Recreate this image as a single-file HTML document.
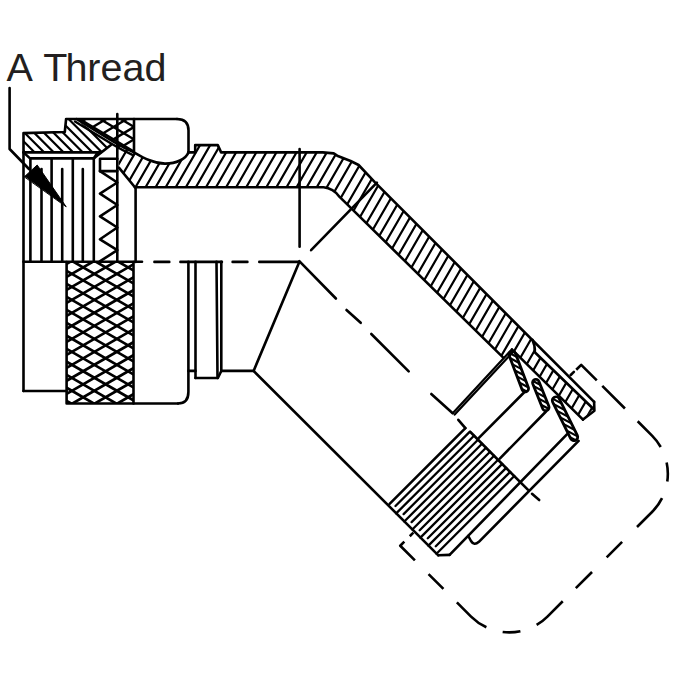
<!DOCTYPE html>
<html><head><meta charset="utf-8"><style>
html,body{margin:0;padding:0;background:#fff;}
body{width:675px;height:675px;overflow:hidden;position:relative;}
.t{position:absolute;left:6.6px;top:47.7px;font-family:"Liberation Sans",sans-serif;font-size:39.5px;line-height:1;color:#231f20;white-space:nowrap;}
svg{position:absolute;left:0;top:0;}
</style></head><body>
<div class="t">A <span style="margin-left:1.5px">T</span><span style="margin-left:-2px">hread</span></div>
<svg width="675" height="675" viewBox="0 0 675 675">
<defs><clipPath id="nuthatch"><path d="M23.5 133.1 L64.8 132 L66.1 119 L75.5 119 L111 143.5 L110.9 145 L100.6 152.8 L23.5 152.4 Z"/></clipPath><clipPath id="knurlup"><path d="M76.5 119 L134 119 L134 152.5 Q124 148 113 141.4 Z"/></clipPath><clipPath id="knurllo"><path d="M66.2 262.0 L133.5 262.0 L133.5 403.5 L66.2 403.5 Z"/></clipPath><clipPath id="body"><path d="M117.3 144 L134 152.3 C143 157.5 153 163.5 165 163.6 C176 163.7 186 159 188.5 152.2 L195.2 152.4 L195.2 145.1 L217.8 145.1 L221.1 152.4 L322.7 152.4 L333.7 153.4 L337.2 155.7 L350.6 161 L358.6 165 L375 182.3 L532.5 339.9 C534.5 344 535 348 534.8 352.2 L593.5 409 L583 419.6 L511.9 349.4 L503 357.4 L339.6 196.9 C336 192 331 188 323.6 187 L134.9 186.5 L118.9 167.6 Z"/></clipPath><clipPath id="f1"><path d="M509.21 355.67 L522.11 389.67 A3.3 3.3 0 0 0 528.29 387.33 L515.39 353.33 A3.3 3.3 0 0 0 509.21 355.67 Z"/></clipPath><clipPath id="f2"><path d="M532.74 383.73 L542.74 408.73 A3.3 3.3 0 0 0 548.86 406.27 L538.86 381.27 A3.3 3.3 0 0 0 532.74 383.73 Z"/></clipPath><clipPath id="f3"><path d="M552.68 402.14 L570.68 438.64 A3.7 3.7 0 0 0 577.32 435.36 L559.32 398.86 A3.7 3.7 0 0 0 552.68 402.14 Z"/></clipPath></defs>
<g stroke="#000" stroke-linecap="round" stroke-linejoin="round" fill="none">
<polyline points="9.6,88.0 9.6,149.0 29.0,169.0" fill="none" stroke-width="2.6"/>
<polygon points="24.6,176.6 37.2,165.0 66.0,206.5" fill="#000" stroke-width="1"/>
<polyline points="23.5,391.0 23.5,133.1 64.8,132.0 66.1,119.0 177.0,119.0" fill="none" stroke-width="2.6"/>
<path d="M177 119 Q188.5 119 188.5 130.5 L188.5 152.2" fill="none" stroke-width="2.6" />
<path d="M134 152.3 C143 157.5 153 163.5 165 163.6 C176 163.7 186 159 188.5 152.2" fill="none" stroke-width="2.6" />
<line x1="23.5" y1="152.4" x2="100.6" y2="152.4" stroke-width="2.6"/>
<polyline points="23.5,152.4 30.0,158.4 94.0,158.4 97.5,152.4" fill="none" stroke-width="2.6"/>
<path clip-path="url(#nuthatch)" d="M344.1 -1019.1L1694.1 330.9M339.3 -1014.3L1689.3 335.7M334.5 -1009.5L1684.5 340.5M329.7 -1004.7L1679.7 345.3M324.9 -999.9L1674.9 350.1M320.1 -995.1L1670.1 354.9M315.3 -990.3L1665.3 359.7M310.5 -985.5L1660.5 364.5M305.6 -980.6L1655.6 369.4M300.8 -975.8L1650.8 374.2M296.0 -971.0L1646.0 379.0M291.2 -966.2L1641.2 383.8M286.4 -961.4L1636.4 388.6M281.6 -956.6L1631.6 393.4M276.8 -951.8L1626.8 398.2M272.0 -947.0L1622.0 403.0M267.2 -942.2L1617.2 407.8M262.4 -937.4L1612.4 412.6M257.6 -932.6L1607.6 417.4M252.8 -927.8L1602.8 422.2M247.9 -922.9L1597.9 427.1M243.1 -918.1L1593.1 431.9M238.3 -913.3L1588.3 436.7M233.5 -908.5L1583.5 441.5M228.7 -903.7L1578.7 446.3M223.9 -898.9L1573.9 451.1M219.1 -894.1L1569.1 455.9M214.3 -889.3L1564.3 460.7M209.5 -884.5L1559.5 465.5M204.7 -879.7L1554.7 470.3M199.9 -874.9L1549.9 475.1M195.1 -870.1L1545.1 479.9M190.2 -865.2L1540.2 484.8M185.4 -860.4L1535.4 489.6M180.6 -855.6L1530.6 494.4M175.8 -850.8L1525.8 499.2M171.0 -846.0L1521.0 504.0M166.2 -841.2L1516.2 508.8M161.4 -836.4L1511.4 513.6M156.6 -831.6L1506.6 518.4M151.8 -826.8L1501.8 523.2M147.0 -822.0L1497.0 528.0M142.2 -817.2L1492.2 532.8M137.4 -812.4L1487.4 537.6M132.5 -807.5L1482.5 542.5M127.7 -802.7L1477.7 547.3M122.9 -797.9L1472.9 552.1M118.1 -793.1L1468.1 556.9M113.3 -788.3L1463.3 561.7M108.5 -783.5L1458.5 566.5M103.7 -778.7L1453.7 571.3M98.9 -773.9L1448.9 576.1M94.1 -769.1L1444.1 580.9M89.3 -764.3L1439.3 585.7M84.5 -759.5L1434.5 590.5M79.7 -754.7L1429.7 595.3M74.8 -749.8L1424.8 600.2M70.0 -745.0L1420.0 605.0M65.2 -740.2L1415.2 609.8M60.4 -735.4L1410.4 614.6M55.6 -730.6L1405.6 619.4M50.8 -725.8L1400.8 624.2M46.0 -721.0L1396.0 629.0M41.2 -716.2L1391.2 633.8M36.4 -711.4L1386.4 638.6M31.6 -706.6L1381.6 643.4M26.8 -701.8L1376.8 648.2M22.0 -697.0L1372.0 653.0M17.1 -692.1L1367.1 657.9M12.3 -687.3L1362.3 662.7M7.5 -682.5L1357.5 667.5M2.7 -677.7L1352.7 672.3M-2.1 -672.9L1347.9 677.1M-6.9 -668.1L1343.1 681.9M-11.7 -663.3L1338.3 686.7M-16.5 -658.5L1333.5 691.5M-21.3 -653.7L1328.7 696.3M-26.1 -648.9L1323.9 701.1M-30.9 -644.1L1319.1 705.9M-35.7 -639.3L1314.3 710.7M-40.6 -634.4L1309.4 715.6M-45.4 -629.6L1304.6 720.4M-50.2 -624.8L1299.8 725.2M-55.0 -620.0L1295.0 730.0M-59.8 -615.2L1290.2 734.8M-64.6 -610.4L1285.4 739.6M-69.4 -605.6L1280.6 744.4M-74.2 -600.8L1275.8 749.2M-79.0 -596.0L1271.0 754.0M-83.8 -591.2L1266.2 758.8M-88.6 -586.4L1261.4 763.6M-93.4 -581.6L1256.6 768.4M-98.3 -576.7L1251.7 773.3M-103.1 -571.9L1246.9 778.1M-107.9 -567.1L1242.1 782.9M-112.7 -562.3L1237.3 787.7M-117.5 -557.5L1232.5 792.5M-122.3 -552.7L1227.7 797.3M-127.1 -547.9L1222.9 802.1M-131.9 -543.1L1218.1 806.9M-136.7 -538.3L1213.3 811.7M-141.5 -533.5L1208.5 816.5M-146.3 -528.7L1203.7 821.3M-151.1 -523.9L1198.9 826.1M-156.0 -519.0L1194.0 831.0M-160.8 -514.2L1189.2 835.8M-165.6 -509.4L1184.4 840.6M-170.4 -504.6L1179.6 845.4M-175.2 -499.8L1174.8 850.2M-180.0 -495.0L1170.0 855.0M-184.8 -490.2L1165.2 859.8M-189.6 -485.4L1160.4 864.6M-194.4 -480.6L1155.6 869.4M-199.2 -475.8L1150.8 874.2M-204.0 -471.0L1146.0 879.0M-208.8 -466.2L1141.2 883.8M-213.7 -461.3L1136.3 888.7M-218.5 -456.5L1131.5 893.5M-223.3 -451.7L1126.7 898.3M-228.1 -446.9L1121.9 903.1M-232.9 -442.1L1117.1 907.9M-237.7 -437.3L1112.3 912.7M-242.5 -432.5L1107.5 917.5M-247.3 -427.7L1102.7 922.3M-252.1 -422.9L1097.9 927.1M-256.9 -418.1L1093.1 931.9M-261.7 -413.3L1088.3 936.7M-266.5 -408.5L1083.5 941.5M-271.4 -403.6L1078.6 946.4M-276.2 -398.8L1073.8 951.2M-281.0 -394.0L1069.0 956.0M-285.8 -389.2L1064.2 960.8M-290.6 -384.4L1059.4 965.6M-295.4 -379.6L1054.6 970.4M-300.2 -374.8L1049.8 975.2M-305.0 -370.0L1045.0 980.0M-309.8 -365.2L1040.2 984.8M-314.6 -360.4L1035.4 989.6M-319.4 -355.6L1030.6 994.4M-324.2 -350.8L1025.8 999.2M-329.1 -345.9L1020.9 1004.1M-333.9 -341.1L1016.1 1008.9M-338.7 -336.3L1011.3 1013.7M-343.5 -331.5L1006.5 1018.5M-348.3 -326.7L1001.7 1023.3M-353.1 -321.9L996.9 1028.1M-357.9 -317.1L992.1 1032.9M-362.7 -312.3L987.3 1037.7M-367.5 -307.5L982.5 1042.5M-372.3 -302.7L977.7 1047.3M-377.1 -297.9L972.9 1052.1M-381.9 -293.1L968.1 1056.9M-386.8 -288.2L963.2 1061.8M-391.6 -283.4L958.4 1066.6M-396.4 -278.6L953.6 1071.4M-401.2 -273.8L948.8 1076.2M-406.0 -269.0L944.0 1081.0M-410.8 -264.2L939.2 1085.8M-415.6 -259.4L934.4 1090.6M-420.4 -254.6L929.6 1095.4M-425.2 -249.8L924.8 1100.2M-430.0 -245.0L920.0 1105.0M-434.8 -240.2L915.2 1109.8M-439.6 -235.4L910.4 1114.6M-444.4 -230.6L905.6 1119.4M-449.3 -225.7L900.7 1124.3M-454.1 -220.9L895.9 1129.1M-458.9 -216.1L891.1 1133.9M-463.7 -211.3L886.3 1138.7M-468.5 -206.5L881.5 1143.5M-473.3 -201.7L876.7 1148.3M-478.1 -196.9L871.9 1153.1M-482.9 -192.1L867.1 1157.9M-487.7 -187.3L862.3 1162.7M-492.5 -182.5L857.5 1167.5M-497.3 -177.7L852.7 1172.3M-502.1 -172.9L847.9 1177.1M-507.0 -168.0L843.0 1182.0M-511.8 -163.2L838.2 1186.8M-516.6 -158.4L833.4 1191.6M-521.4 -153.6L828.6 1196.4M-526.2 -148.8L823.8 1201.2M-531.0 -144.0L819.0 1206.0M-535.8 -139.2L814.2 1210.8M-540.6 -134.4L809.4 1215.6M-545.4 -129.6L804.6 1220.4M-550.2 -124.8L799.8 1225.2M-555.0 -120.0L795.0 1230.0M-559.8 -115.2L790.2 1234.8M-564.7 -110.3L785.3 1239.7M-569.5 -105.5L780.5 1244.5M-574.3 -100.7L775.7 1249.3M-579.1 -95.9L770.9 1254.1M-583.9 -91.1L766.1 1258.9M-588.7 -86.3L761.3 1263.7M-593.5 -81.5L756.5 1268.5M-598.3 -76.7L751.7 1273.3M-603.1 -71.9L746.9 1278.1M-607.9 -67.1L742.1 1282.9M-612.7 -62.3L737.3 1287.7M-617.5 -57.5L732.5 1292.5M-622.4 -52.6L727.6 1297.4M-627.2 -47.8L722.8 1302.2M-632.0 -43.0L718.0 1307.0M-636.8 -38.2L713.2 1311.8M-641.6 -33.4L708.4 1316.6M-646.4 -28.6L703.6 1321.4M-651.2 -23.8L698.8 1326.2M-656.0 -19.0L694.0 1331.0M-660.8 -14.2L689.2 1335.8M-665.6 -9.4L684.4 1340.6M-670.4 -4.6L679.6 1345.4M-675.2 0.2L674.8 1350.2M-680.1 5.1L669.9 1355.1M-684.9 9.9L665.1 1359.9M-689.7 14.7L660.3 1364.7M-694.5 19.5L655.5 1369.5M-699.3 24.3L650.7 1374.3M-704.1 29.1L645.9 1379.1M-708.9 33.9L641.1 1383.9M-713.7 38.7L636.3 1388.7M-718.5 43.5L631.5 1393.5M-723.3 48.3L626.7 1398.3M-728.1 53.1L621.9 1403.1M-732.9 57.9L617.1 1407.9M-737.8 62.8L612.2 1412.8M-742.6 67.6L607.4 1417.6M-747.4 72.4L602.6 1422.4M-752.2 77.2L597.8 1427.2M-757.0 82.0L593.0 1432.0M-761.8 86.8L588.2 1436.8M-766.6 91.6L583.4 1441.6M-771.4 96.4L578.6 1446.4M-776.2 101.2L573.8 1451.2M-781.0 106.0L569.0 1456.0M-785.8 110.8L564.2 1460.8M-790.6 115.6L559.4 1465.6M-795.5 120.5L554.5 1470.5M-800.3 125.3L549.7 1475.3M-805.1 130.1L544.9 1480.1M-809.9 134.9L540.1 1484.9M-814.7 139.7L535.3 1489.7M-819.5 144.5L530.5 1494.5M-824.3 149.3L525.7 1499.3M-829.1 154.1L520.9 1504.1M-833.9 158.9L516.1 1508.9M-838.7 163.7L511.3 1513.7M-843.5 168.5L506.5 1518.5M-848.3 173.3L501.7 1523.3M-853.2 178.2L496.8 1528.2M-858.0 183.0L492.0 1533.0M-862.8 187.8L487.2 1537.8M-867.6 192.6L482.4 1542.6M-872.4 197.4L477.6 1547.4M-877.2 202.2L472.8 1552.2M-882.0 207.0L468.0 1557.0M-886.8 211.8L463.2 1561.8M-891.6 216.6L458.4 1566.6M-896.4 221.4L453.6 1571.4M-901.2 226.2L448.8 1576.2M-906.0 231.0L444.0 1581.0M-910.9 235.9L439.1 1585.9M-915.7 240.7L434.3 1590.7M-920.5 245.5L429.5 1595.5M-925.3 250.3L424.7 1600.3M-930.1 255.1L419.9 1605.1M-934.9 259.9L415.1 1609.9M-939.7 264.7L410.3 1614.7M-944.5 269.5L405.5 1619.5M-949.3 274.3L400.7 1624.3M-954.1 279.1L395.9 1629.1M-958.9 283.9L391.1 1633.9M-963.7 288.7L386.3 1638.7M-968.6 293.6L381.4 1643.6M-973.4 298.4L376.6 1648.4M-978.2 303.2L371.8 1653.2M-983.0 308.0L367.0 1658.0M-987.8 312.8L362.2 1662.8M-992.6 317.6L357.4 1667.6M-997.4 322.4L352.6 1672.4M-1002.2 327.2L347.8 1677.2M-1007.0 332.0L343.0 1682.0M-1011.8 336.8L338.2 1686.8M-1016.6 341.6L333.4 1691.6M-1021.4 346.4L328.6 1696.4" stroke-width="2.2" fill="none"/>
<path d="M76.5 119 L113 141.4 Q124 148 134 152.5" fill="none" stroke-width="2.4" />
<path d="M75 121.4 L111.5 143.8 Q122.5 150.4 132.5 154.9" fill="none" stroke-width="2.4" />
<line x1="30.4" y1="158.4" x2="30.4" y2="261.8" stroke-width="2.6"/>
<line x1="51.6" y1="158.4" x2="51.6" y2="261.8" stroke-width="2.6"/>
<line x1="72.8" y1="158.4" x2="72.8" y2="261.8" stroke-width="2.6"/>
<line x1="93.8" y1="158.4" x2="93.8" y2="261.8" stroke-width="2.6"/>
<line x1="41.5" y1="169.0" x2="41.5" y2="261.8" stroke-width="2.6"/>
<line x1="62.2" y1="169.0" x2="62.2" y2="261.8" stroke-width="2.6"/>
<line x1="82.8" y1="169.0" x2="82.8" y2="261.8" stroke-width="2.6"/>
<line x1="23.5" y1="261.8" x2="142.0" y2="261.8" stroke-width="2.6"/>
<line x1="93.6" y1="158.4" x2="110.9" y2="145.0" stroke-width="2.6"/>
<polyline points="117.3,158.7 100.0,158.7 100.0,171.1" fill="none" stroke-width="2.6"/>
<polyline points="100.0,171.1 117.3,182.5 100.0,193.6 117.3,205.0 100.0,216.3 117.3,227.5 100.0,239.3 117.3,250.2 99.8,261.4" fill="none" stroke-width="2.6"/>
<line x1="100.0" y1="171.1" x2="117.3" y2="171.1" stroke-width="2.6"/>
<line x1="117.3" y1="114.0" x2="117.3" y2="261.8" stroke-width="2.6"/>
<line x1="134.0" y1="119.0" x2="134.0" y2="152.3" stroke-width="2.6"/>
<path clip-path="url(#knurlup)" d="M16.8 -982.2L1653.3 1.1M11.3 -973.1L1647.8 10.2M5.9 -964.0L1642.4 19.3M0.4 -954.9L1636.9 28.4M-5.0 -945.9L1631.4 37.5M-10.5 -936.8L1626.0 46.5M-16.0 -927.7L1620.5 55.6M-21.4 -918.6L1615.1 64.7M-26.9 -909.5L1609.6 73.8M-32.3 -900.4L1604.2 82.9M-37.8 -891.3L1598.7 92.0M-43.3 -882.3L1593.2 101.1M-48.7 -873.2L1587.8 110.1M-54.2 -864.1L1582.3 119.2M-59.6 -855.0L1576.9 128.3M-65.1 -845.9L1571.4 137.4M-70.6 -836.8L1565.9 146.5M-76.0 -827.7L1560.5 155.6M-81.5 -818.6L1555.0 164.7M-86.9 -809.6L1549.6 173.7M-92.4 -800.5L1544.1 182.8M-97.9 -791.4L1538.6 191.9M-103.3 -782.3L1533.2 201.0M-108.8 -773.2L1527.7 210.1M-114.2 -764.1L1522.3 219.2M-119.7 -755.0L1516.8 228.3M-125.2 -746.0L1511.3 237.3M-130.6 -736.9L1505.9 246.4M-136.1 -727.8L1500.4 255.5M-141.5 -718.7L1495.0 264.6M-147.0 -709.6L1489.5 273.7M-152.4 -700.5L1484.0 282.8M-157.9 -691.4L1478.6 291.9M-163.4 -682.4L1473.1 300.9M-168.8 -673.3L1467.7 310.0M-174.3 -664.2L1462.2 319.1M-179.7 -655.1L1456.7 328.2M-185.2 -646.0L1451.3 337.3M-190.7 -636.9L1445.8 346.4M-196.1 -627.8L1440.4 355.5M-201.6 -618.8L1434.9 364.5M-207.0 -609.7L1429.5 373.6M-212.5 -600.6L1424.0 382.7M-218.0 -591.5L1418.5 391.8M-223.4 -582.4L1413.1 400.9M-228.9 -573.3L1407.6 410.0M-234.3 -564.2L1402.2 419.1M-239.8 -555.2L1396.7 428.1M-245.3 -546.1L1391.2 437.2M-250.7 -537.0L1385.8 446.3M-256.2 -527.9L1380.3 455.4M-261.6 -518.8L1374.9 464.5M-267.1 -509.7L1369.4 473.6M-272.6 -500.6L1363.9 482.7M-278.0 -491.6L1358.5 491.8M-283.5 -482.5L1353.0 500.8M-288.9 -473.4L1347.6 509.9M-294.4 -464.3L1342.1 519.0M-299.9 -455.2L1336.6 528.1M-305.3 -446.1L1331.2 537.2M-310.8 -437.0L1325.7 546.3M-316.2 -428.0L1320.3 555.4M-321.7 -418.9L1314.8 564.4M-327.2 -409.8L1309.3 573.5M-332.6 -400.7L1303.9 582.6M-338.1 -391.6L1298.4 591.7M-343.5 -382.5L1293.0 600.8M-349.0 -373.4L1287.5 609.9M-354.4 -364.3L1282.0 619.0M-359.9 -355.3L1276.6 628.0M-365.4 -346.2L1271.1 637.1M-370.8 -337.1L1265.7 646.2M-376.3 -328.0L1260.2 655.3M-381.7 -318.9L1254.7 664.4M-387.2 -309.8L1249.3 673.5M-392.7 -300.7L1243.8 682.6M-398.1 -291.7L1238.4 691.6M-403.6 -282.6L1232.9 700.7M-409.0 -273.5L1227.5 709.8M-414.5 -264.4L1222.0 718.9M-420.0 -255.3L1216.5 728.0M-425.4 -246.2L1211.1 737.1M-430.9 -237.1L1205.6 746.2M-436.3 -228.1L1200.2 755.2M-441.8 -219.0L1194.7 764.3M-447.3 -209.9L1189.2 773.4M-452.7 -200.8L1183.8 782.5M-458.2 -191.7L1178.3 791.6M-463.6 -182.6L1172.9 800.7M-469.1 -173.5L1167.4 809.8M-474.6 -164.5L1161.9 818.8M-480.0 -155.4L1156.5 827.9M-485.5 -146.3L1151.0 837.0M-490.9 -137.2L1145.6 846.1M-496.4 -128.1L1140.1 855.2M-501.9 -119.0L1134.6 864.3M-507.3 -109.9L1129.2 873.4M-512.8 -100.9L1123.7 882.4M-518.2 -91.8L1118.3 891.5M-523.7 -82.7L1112.8 900.6M-529.1 -73.6L1107.3 909.7M-534.6 -64.5L1101.9 918.8M-540.1 -55.4L1096.4 927.9M-545.5 -46.3L1091.0 937.0M-551.0 -37.3L1085.5 946.0M-556.4 -28.2L1080.0 955.1M-561.9 -19.1L1074.6 964.2M-567.4 -10.0L1069.1 973.3M-572.8 -0.9L1063.7 982.4M-578.3 8.2L1058.2 991.5M-583.7 17.3L1052.8 1000.6M-589.2 26.3L1047.3 1009.7M-594.7 35.4L1041.8 1018.7M-600.1 44.5L1036.4 1027.8M-605.6 53.6L1030.9 1036.9M-611.0 62.7L1025.5 1046.0M-616.5 71.8L1020.0 1055.1M-622.0 80.9L1014.5 1064.2M-627.4 89.9L1009.1 1073.3M-632.9 99.0L1003.6 1082.3M-638.3 108.1L998.2 1091.4M-643.8 117.2L992.7 1100.5M-649.3 126.3L987.2 1109.6M-654.7 135.4L981.8 1118.7M-660.2 144.5L976.3 1127.8M-665.6 153.6L970.9 1136.9M-671.1 162.6L965.4 1145.9M-676.6 171.7L959.9 1155.0M-682.0 180.8L954.5 1164.1M-687.5 189.9L949.0 1173.2M-692.9 199.0L943.6 1182.3M-698.4 208.1L938.1 1191.4M-703.8 217.2L932.6 1200.5M-709.3 226.2L927.2 1209.5M-714.8 235.3L921.7 1218.6M-720.2 244.4L916.3 1227.7M-725.7 253.5L910.8 1236.8M-731.1 262.6L905.3 1245.9M-736.6 271.7L899.9 1255.0M-742.1 280.8L894.4 1264.1M-747.5 289.8L889.0 1273.1M-753.0 298.9L883.5 1282.2M-758.4 308.0L878.1 1291.3M-763.9 317.1L872.6 1300.4M-769.4 326.2L867.1 1309.5M-774.8 335.3L861.7 1318.6M-780.3 344.4L856.2 1327.7M-785.7 353.4L850.8 1336.7M-791.2 362.5L845.3 1345.8M-796.7 371.6L839.8 1354.9M-802.1 380.7L834.4 1364.0M-807.6 389.8L828.9 1373.1M-813.0 398.9L823.5 1382.2M-818.5 408.0L818.0 1391.3M-824.0 417.0L812.5 1400.3M-829.4 426.1L807.1 1409.4M-834.9 435.2L801.6 1418.5M-840.3 444.3L796.2 1427.6M-845.8 453.4L790.7 1436.7M-851.3 462.5L785.2 1445.8M-856.7 471.6L779.8 1454.9M-862.2 480.6L774.3 1464.0M-867.6 489.7L768.9 1473.0M-873.1 498.8L763.4 1482.1M-878.6 507.9L757.9 1491.2M-884.0 517.0L752.5 1500.3M-889.5 526.1L747.0 1509.4M-894.9 535.2L741.6 1518.5M-900.4 544.2L736.1 1527.6M-905.8 553.3L730.6 1536.6M-911.3 562.4L725.2 1545.7M-916.8 571.5L719.7 1554.8M-922.2 580.6L714.3 1563.9M-927.7 589.7L708.8 1573.0M-933.1 598.8L703.3 1582.1M-938.6 607.8L697.9 1591.2M-944.1 616.9L692.4 1600.2M-949.5 626.0L687.0 1609.3M-955.0 635.1L681.5 1618.4M-960.4 644.2L676.1 1627.5M-965.9 653.3L670.6 1636.6M-971.4 662.4L665.1 1645.7M-976.8 671.5L659.7 1654.8M-982.3 680.5L654.2 1663.8" stroke-width="2.4" fill="none"/>
<path clip-path="url(#knurlup)" d="M-982.5 -5.9L654.0 -989.2M-977.1 3.1L659.4 -980.2M-971.6 12.2L664.9 -971.1M-966.1 21.3L670.4 -962.0M-960.7 30.4L675.8 -952.9M-955.2 39.5L681.3 -943.8M-949.8 48.6L686.7 -934.7M-944.3 57.7L692.2 -925.6M-938.8 66.8L697.6 -916.6M-933.4 75.8L703.1 -907.5M-927.9 84.9L708.6 -898.4M-922.5 94.0L714.0 -889.3M-917.0 103.1L719.5 -880.2M-911.5 112.2L724.9 -871.1M-906.1 121.3L730.4 -862.0M-900.6 130.4L735.9 -853.0M-895.2 139.4L741.3 -843.9M-889.7 148.5L746.8 -834.8M-884.3 157.6L752.2 -825.7M-878.8 166.7L757.7 -816.6M-873.3 175.8L763.2 -807.5M-867.9 184.9L768.6 -798.4M-862.4 194.0L774.1 -789.4M-857.0 203.0L779.5 -780.3M-851.5 212.1L785.0 -771.2M-846.0 221.2L790.5 -762.1M-840.6 230.3L795.9 -753.0M-835.1 239.4L801.4 -743.9M-829.7 248.5L806.8 -734.8M-824.2 257.6L812.3 -725.7M-818.7 266.6L817.8 -716.7M-813.3 275.7L823.2 -707.6M-807.8 284.8L828.7 -698.5M-802.4 293.9L834.1 -689.4M-796.9 303.0L839.6 -680.3M-791.4 312.1L845.1 -671.2M-786.0 321.2L850.5 -662.1M-780.5 330.2L856.0 -653.1M-775.1 339.3L861.4 -644.0M-769.6 348.4L866.9 -634.9M-764.1 357.5L872.4 -625.8M-758.7 366.6L877.8 -616.7M-753.2 375.7L883.3 -607.6M-747.8 384.8L888.7 -598.5M-742.3 393.8L894.2 -589.5M-736.8 402.9L899.6 -580.4M-731.4 412.0L905.1 -571.3M-725.9 421.1L910.6 -562.2M-720.5 430.2L916.0 -553.1M-715.0 439.3L921.5 -544.0M-709.5 448.4L926.9 -534.9M-704.1 457.4L932.4 -525.9M-698.6 466.5L937.9 -516.8M-693.2 475.6L943.3 -507.7M-687.7 484.7L948.8 -498.6M-682.3 493.8L954.2 -489.5M-676.8 502.9L959.7 -480.4M-671.3 512.0L965.2 -471.3M-665.9 521.0L970.6 -462.3M-660.4 530.1L976.1 -453.2M-655.0 539.2L981.5 -444.1M-649.5 548.3L987.0 -435.0M-644.0 557.4L992.5 -425.9M-638.6 566.5L997.9 -416.8M-633.1 575.6L1003.4 -407.7M-627.7 584.7L1008.8 -398.7M-622.2 593.7L1014.3 -389.6M-616.7 602.8L1019.8 -380.5M-611.3 611.9L1025.2 -371.4M-605.8 621.0L1030.7 -362.3M-600.4 630.1L1036.1 -353.2M-594.9 639.2L1041.6 -344.1M-589.4 648.3L1047.1 -335.1M-584.0 657.3L1052.5 -326.0M-578.5 666.4L1058.0 -316.9M-573.1 675.5L1063.4 -307.8M-567.6 684.6L1068.9 -298.7M-562.1 693.7L1074.3 -289.6M-556.7 702.8L1079.8 -280.5M-551.2 711.9L1085.3 -271.5M-545.8 720.9L1090.7 -262.4M-540.3 730.0L1096.2 -253.3M-534.8 739.1L1101.6 -244.2M-529.4 748.2L1107.1 -235.1M-523.9 757.3L1112.6 -226.0M-518.5 766.4L1118.0 -216.9M-513.0 775.5L1123.5 -207.8M-507.6 784.5L1128.9 -198.8M-502.1 793.6L1134.4 -189.7M-496.6 802.7L1139.9 -180.6M-491.2 811.8L1145.3 -171.5M-485.7 820.9L1150.8 -162.4M-480.3 830.0L1156.2 -153.3M-474.8 839.1L1161.7 -144.2M-469.3 848.1L1167.2 -135.2M-463.9 857.2L1172.6 -126.1M-458.4 866.3L1178.1 -117.0M-453.0 875.4L1183.5 -107.9M-447.5 884.5L1189.0 -98.8M-442.0 893.6L1194.5 -89.7M-436.6 902.7L1199.9 -80.6M-431.1 911.7L1205.4 -71.6M-425.7 920.8L1210.8 -62.5M-420.2 929.9L1216.3 -53.4M-414.7 939.0L1221.8 -44.3M-409.3 948.1L1227.2 -35.2M-403.8 957.2L1232.7 -26.1M-398.4 966.3L1238.1 -17.0M-392.9 975.3L1243.6 -8.0M-387.4 984.4L1249.0 1.1M-382.0 993.5L1254.5 10.2M-376.5 1002.6L1260.0 19.3M-371.1 1011.7L1265.4 28.4M-365.6 1020.8L1270.9 37.5M-360.1 1029.9L1276.3 46.6M-354.7 1038.9L1281.8 55.6M-349.2 1048.0L1287.3 64.7M-343.8 1057.1L1292.7 73.8M-338.3 1066.2L1298.2 82.9M-332.9 1075.3L1303.6 92.0M-327.4 1084.4L1309.1 101.1M-321.9 1093.5L1314.6 110.2M-316.5 1102.6L1320.0 119.2M-311.0 1111.6L1325.5 128.3M-305.6 1120.7L1330.9 137.4M-300.1 1129.8L1336.4 146.5M-294.6 1138.9L1341.9 155.6M-289.2 1148.0L1347.3 164.7M-283.7 1157.1L1352.8 173.8M-278.3 1166.2L1358.2 182.8M-272.8 1175.2L1363.7 191.9M-267.3 1184.3L1369.2 201.0M-261.9 1193.4L1374.6 210.1M-256.4 1202.5L1380.1 219.2M-251.0 1211.6L1385.5 228.3M-245.5 1220.7L1391.0 237.4M-240.0 1229.8L1396.5 246.4M-234.6 1238.8L1401.9 255.5M-229.1 1247.9L1407.4 264.6M-223.7 1257.0L1412.8 273.7M-218.2 1266.1L1418.3 282.8M-212.7 1275.2L1423.8 291.9M-207.3 1284.3L1429.2 301.0M-201.8 1293.4L1434.7 310.1M-196.4 1302.4L1440.1 319.1M-190.9 1311.5L1445.6 328.2M-185.4 1320.6L1451.0 337.3M-180.0 1329.7L1456.5 346.4M-174.5 1338.8L1462.0 355.5M-169.1 1347.9L1467.4 364.6M-163.6 1357.0L1472.9 373.7M-158.1 1366.0L1478.3 382.7M-152.7 1375.1L1483.8 391.8M-147.2 1384.2L1489.3 400.9M-141.8 1393.3L1494.7 410.0M-136.3 1402.4L1500.2 419.1M-130.9 1411.5L1505.6 428.2M-125.4 1420.6L1511.1 437.3M-119.9 1429.6L1516.6 446.3M-114.5 1438.7L1522.0 455.4M-109.0 1447.8L1527.5 464.5M-103.6 1456.9L1532.9 473.6M-98.1 1466.0L1538.4 482.7M-92.6 1475.1L1543.9 491.8M-87.2 1484.2L1549.3 500.9M-81.7 1493.2L1554.8 509.9M-76.3 1502.3L1560.2 519.0M-70.8 1511.4L1565.7 528.1M-65.3 1520.5L1571.2 537.2M-59.9 1529.6L1576.6 546.3M-54.4 1538.7L1582.1 555.4M-49.0 1547.8L1587.5 564.5M-43.5 1556.8L1593.0 573.5M-38.0 1565.9L1598.5 582.6M-32.6 1575.0L1603.9 591.7M-27.1 1584.1L1609.4 600.8M-21.7 1593.2L1614.8 609.9M-16.2 1602.3L1620.3 619.0M-10.7 1611.4L1625.7 628.1M-5.3 1620.5L1631.2 637.1M0.2 1629.5L1636.7 646.2M5.6 1638.6L1642.1 655.3M11.1 1647.7L1647.6 664.4M16.6 1656.8L1653.0 673.5" stroke-width="2.4" fill="none"/>
<polyline points="66.6,262.0 66.6,403.5 178.0,403.5" fill="none" stroke-width="2.6"/>
<path d="M178 403.5 Q188.4 403.5 188.4 392 L188.4 261.8" fill="none" stroke-width="2.6" />
<line x1="23.5" y1="391.0" x2="66.6" y2="391.0" stroke-width="2.6"/>
<line x1="133.5" y1="262.0" x2="133.5" y2="403.5" stroke-width="2.6"/>
<path clip-path="url(#knurllo)" d="M-4.9 -978.5L1648.5 -24.0M-10.6 -968.8L1642.8 -14.2M-16.2 -959.1L1637.2 -4.5M-21.8 -949.3L1631.6 5.3M-27.4 -939.6L1626.0 15.0M-33.1 -929.8L1620.3 24.8M-38.7 -920.1L1614.7 34.5M-44.3 -910.4L1609.1 44.2M-49.9 -900.6L1603.5 54.0M-55.6 -890.9L1597.8 63.7M-61.2 -881.1L1592.2 73.5M-66.8 -871.4L1586.6 83.2M-72.4 -861.6L1581.0 93.0M-78.1 -851.9L1575.3 102.7M-83.7 -842.2L1569.7 112.4M-89.3 -832.4L1564.1 122.2M-94.9 -822.7L1558.5 131.9M-100.6 -812.9L1552.8 141.7M-106.2 -803.2L1547.2 151.4M-111.8 -793.4L1541.6 161.2M-117.4 -783.7L1536.0 170.9M-123.1 -774.0L1530.3 180.6M-128.7 -764.2L1524.7 190.4M-134.3 -754.5L1519.1 200.1M-139.9 -744.7L1513.5 209.9M-145.6 -735.0L1507.8 219.6M-151.2 -725.2L1502.2 229.4M-156.8 -715.5L1496.6 239.1M-162.4 -705.8L1491.0 248.8M-168.1 -696.0L1485.3 258.6M-173.7 -686.3L1479.7 268.3M-179.3 -676.5L1474.1 278.1M-184.9 -666.8L1468.5 287.8M-190.6 -657.0L1462.8 297.6M-196.2 -647.3L1457.2 307.3M-201.8 -637.6L1451.6 317.0M-207.4 -627.8L1446.0 326.8M-213.1 -618.1L1440.3 336.5M-218.7 -608.3L1434.7 346.3M-224.3 -598.6L1429.1 356.0M-229.9 -588.8L1423.5 365.8M-235.6 -579.1L1417.8 375.5M-241.2 -569.4L1412.2 385.2M-246.8 -559.6L1406.6 395.0M-252.4 -549.9L1401.0 404.7M-258.1 -540.1L1395.3 414.5M-263.7 -530.4L1389.7 424.2M-269.3 -520.6L1384.1 434.0M-274.9 -510.9L1378.5 443.7M-280.6 -501.2L1372.8 453.4M-286.2 -491.4L1367.2 463.2M-291.8 -481.7L1361.6 472.9M-297.4 -471.9L1356.0 482.7M-303.1 -462.2L1350.3 492.4M-308.7 -452.4L1344.7 502.2M-314.3 -442.7L1339.1 511.9M-319.9 -433.0L1333.5 521.6M-325.6 -423.2L1327.8 531.4M-331.2 -413.5L1322.2 541.1M-336.8 -403.7L1316.6 550.9M-342.4 -394.0L1311.0 560.6M-348.1 -384.2L1305.3 570.4M-353.7 -374.5L1299.7 580.1M-359.3 -364.8L1294.1 589.8M-364.9 -355.0L1288.5 599.6M-370.6 -345.3L1282.8 609.3M-376.2 -335.5L1277.2 619.1M-381.8 -325.8L1271.6 628.8M-387.4 -316.0L1266.0 638.6M-393.1 -306.3L1260.3 648.3M-398.7 -296.6L1254.7 658.0M-404.3 -286.8L1249.1 667.8M-409.9 -277.1L1243.5 677.5M-415.6 -267.3L1237.8 687.3M-421.2 -257.6L1232.2 697.0M-426.8 -247.8L1226.6 706.8M-432.4 -238.1L1221.0 716.5M-438.1 -228.4L1215.3 726.2M-443.7 -218.6L1209.7 736.0M-449.3 -208.9L1204.1 745.7M-454.9 -199.1L1198.5 755.5M-460.6 -189.4L1192.8 765.2M-466.2 -179.6L1187.2 775.0M-471.8 -169.9L1181.6 784.7M-477.4 -160.2L1176.0 794.4M-483.1 -150.4L1170.3 804.2M-488.7 -140.7L1164.7 813.9M-494.3 -130.9L1159.1 823.7M-499.9 -121.2L1153.5 833.4M-505.6 -111.4L1147.8 843.2M-511.2 -101.7L1142.2 852.9M-516.8 -92.0L1136.6 862.6M-522.4 -82.2L1131.0 872.4M-528.1 -72.5L1125.3 882.1M-533.7 -62.7L1119.7 891.9M-539.3 -53.0L1114.1 901.6M-544.9 -43.2L1108.5 911.4M-550.6 -33.5L1102.8 921.1M-556.2 -23.8L1097.2 930.8M-561.8 -14.0L1091.6 940.6M-567.4 -4.3L1086.0 950.3M-573.1 5.5L1080.3 960.1M-578.7 15.2L1074.7 969.8M-584.3 25.0L1069.1 979.6M-589.9 34.7L1063.5 989.3M-595.6 44.4L1057.8 999.0M-601.2 54.2L1052.2 1008.8M-606.8 63.9L1046.6 1018.5M-612.4 73.7L1041.0 1028.3M-618.1 83.4L1035.3 1038.0M-623.7 93.2L1029.7 1047.8M-629.3 102.9L1024.1 1057.5M-634.9 112.6L1018.5 1067.2M-640.6 122.4L1012.8 1077.0M-646.2 132.1L1007.2 1086.7M-651.8 141.9L1001.6 1096.5M-657.4 151.6L996.0 1106.2M-663.1 161.4L990.3 1116.0M-668.7 171.1L984.7 1125.7M-674.3 180.8L979.1 1135.4M-679.9 190.6L973.5 1145.2M-685.6 200.3L967.8 1154.9M-691.2 210.1L962.2 1164.7M-696.8 219.8L956.6 1174.4M-702.4 229.6L951.0 1184.1M-708.1 239.3L945.3 1193.9M-713.7 249.0L939.7 1203.6M-719.3 258.8L934.1 1213.4M-724.9 268.5L928.5 1223.1M-730.6 278.3L922.8 1232.9M-736.2 288.0L917.2 1242.6M-741.8 297.8L911.6 1252.3M-747.4 307.5L906.0 1262.1M-753.1 317.2L900.3 1271.8M-758.7 327.0L894.7 1281.6M-764.3 336.7L889.1 1291.3M-769.9 346.5L883.5 1301.1M-775.6 356.2L877.8 1310.8M-781.2 366.0L872.2 1320.5M-786.8 375.7L866.6 1330.3M-792.4 385.4L861.0 1340.0M-798.1 395.2L855.3 1349.8M-803.7 404.9L849.7 1359.5M-809.3 414.7L844.1 1369.3M-814.9 424.4L838.5 1379.0M-820.6 434.2L832.8 1388.7M-826.2 443.9L827.2 1398.5M-831.8 453.6L821.6 1408.2M-837.4 463.4L816.0 1418.0M-843.1 473.1L810.3 1427.7M-848.7 482.9L804.7 1437.5M-854.3 492.6L799.1 1447.2M-859.9 502.4L793.5 1456.9M-865.6 512.1L787.8 1466.7M-871.2 521.8L782.2 1476.4M-876.8 531.6L776.6 1486.2M-882.4 541.3L771.0 1495.9M-888.1 551.1L765.3 1505.7M-893.7 560.8L759.7 1515.4M-899.3 570.6L754.1 1525.1M-904.9 580.3L748.5 1534.9M-910.6 590.0L742.8 1544.6M-916.2 599.8L737.2 1554.4M-921.8 609.5L731.6 1564.1M-927.4 619.3L726.0 1573.9M-933.1 629.0L720.3 1583.6M-938.7 638.8L714.7 1593.3M-944.3 648.5L709.1 1603.1M-949.9 658.2L703.5 1612.8M-955.6 668.0L697.8 1622.6M-961.2 677.7L692.2 1632.3M-966.8 687.5L686.6 1642.1M-972.4 697.2L681.0 1651.8" stroke-width="2.7" fill="none"/>
<path clip-path="url(#knurllo)" d="M-976.9 -29.9L676.5 -984.5M-971.3 -20.2L682.1 -974.8M-965.7 -10.4L687.7 -965.0M-960.0 -0.7L693.4 -955.3M-954.4 9.0L699.0 -945.6M-948.8 18.8L704.6 -935.8M-943.2 28.5L710.2 -926.1M-937.5 38.3L715.9 -916.3M-931.9 48.0L721.5 -906.6M-926.3 57.8L727.1 -896.8M-920.7 67.5L732.7 -887.1M-915.0 77.2L738.4 -877.4M-909.4 87.0L744.0 -867.6M-903.8 96.7L749.6 -857.9M-898.2 106.5L755.2 -848.1M-892.5 116.2L760.9 -838.4M-886.9 126.0L766.5 -828.6M-881.3 135.7L772.1 -818.9M-875.7 145.4L777.7 -809.2M-870.0 155.2L783.4 -799.4M-864.4 164.9L789.0 -789.7M-858.8 174.7L794.6 -779.9M-853.2 184.4L800.2 -770.2M-847.5 194.2L805.9 -760.4M-841.9 203.9L811.5 -750.7M-836.3 213.6L817.1 -741.0M-830.7 223.4L822.7 -731.2M-825.0 233.1L828.4 -721.5M-819.4 242.9L834.0 -711.7M-813.8 252.6L839.6 -702.0M-808.2 262.4L845.2 -692.2M-802.5 272.1L850.9 -682.5M-796.9 281.8L856.5 -672.8M-791.3 291.6L862.1 -663.0M-785.7 301.3L867.7 -653.3M-780.0 311.1L873.4 -643.5M-774.4 320.8L879.0 -633.8M-768.8 330.6L884.6 -624.0M-763.2 340.3L890.2 -614.3M-757.5 350.0L895.9 -604.6M-751.9 359.8L901.5 -594.8M-746.3 369.5L907.1 -585.1M-740.7 379.3L912.7 -575.3M-735.0 389.0L918.4 -565.6M-729.4 398.8L924.0 -555.8M-723.8 408.5L929.6 -546.1M-718.2 418.2L935.2 -536.4M-712.5 428.0L940.9 -526.6M-706.9 437.7L946.5 -516.9M-701.3 447.5L952.1 -507.1M-695.7 457.2L957.7 -497.4M-690.0 467.0L963.4 -487.6M-684.4 476.7L969.0 -477.9M-678.8 486.4L974.6 -468.2M-673.2 496.2L980.2 -458.4M-667.5 505.9L985.9 -448.7M-661.9 515.7L991.5 -438.9M-656.3 525.4L997.1 -429.2M-650.7 535.2L1002.7 -419.4M-645.0 544.9L1008.4 -409.7M-639.4 554.6L1014.0 -400.0M-633.8 564.4L1019.6 -390.2M-628.2 574.1L1025.2 -380.5M-622.5 583.9L1030.9 -370.7M-616.9 593.6L1036.5 -361.0M-611.3 603.3L1042.1 -351.2M-605.7 613.1L1047.7 -341.5M-600.0 622.8L1053.4 -331.8M-594.4 632.6L1059.0 -322.0M-588.8 642.3L1064.6 -312.3M-583.2 652.1L1070.2 -302.5M-577.5 661.8L1075.9 -292.8M-571.9 671.5L1081.5 -283.0M-566.3 681.3L1087.1 -273.3M-560.7 691.0L1092.7 -263.6M-555.0 700.8L1098.4 -253.8M-549.4 710.5L1104.0 -244.1M-543.8 720.3L1109.6 -234.3M-538.2 730.0L1115.2 -224.6M-532.5 739.7L1120.9 -214.8M-526.9 749.5L1126.5 -205.1M-521.3 759.2L1132.1 -195.4M-515.7 769.0L1137.7 -185.6M-510.0 778.7L1143.4 -175.9M-504.4 788.5L1149.0 -166.1M-498.8 798.2L1154.6 -156.4M-493.2 807.9L1160.2 -146.6M-487.5 817.7L1165.9 -136.9M-481.9 827.4L1171.5 -127.2M-476.3 837.2L1177.1 -117.4M-470.7 846.9L1182.7 -107.7M-465.0 856.7L1188.4 -97.9M-459.4 866.4L1194.0 -88.2M-453.8 876.1L1199.6 -78.4M-448.2 885.9L1205.2 -68.7M-442.5 895.6L1210.9 -59.0M-436.9 905.4L1216.5 -49.2M-431.3 915.1L1222.1 -39.5M-425.7 924.9L1227.7 -29.7M-420.0 934.6L1233.4 -20.0M-414.4 944.3L1239.0 -10.2M-408.8 954.1L1244.6 -0.5M-403.2 963.8L1250.2 9.2M-397.5 973.6L1255.9 19.0M-391.9 983.3L1261.5 28.7M-386.3 993.1L1267.1 38.5M-380.7 1002.8L1272.7 48.2M-375.0 1012.5L1278.4 58.0M-369.4 1022.3L1284.0 67.7M-363.8 1032.0L1289.6 77.4M-358.2 1041.8L1295.2 87.2M-352.5 1051.5L1300.9 96.9M-346.9 1061.3L1306.5 106.7M-341.3 1071.0L1312.1 116.4M-335.7 1080.7L1317.7 126.2M-330.0 1090.5L1323.4 135.9M-324.4 1100.2L1329.0 145.6M-318.8 1110.0L1334.6 155.4M-313.2 1119.7L1340.2 165.1M-307.5 1129.5L1345.9 174.9M-301.9 1139.2L1351.5 184.6M-296.3 1148.9L1357.1 194.4M-290.7 1158.7L1362.7 204.1M-285.0 1168.4L1368.4 213.8M-279.4 1178.2L1374.0 223.6M-273.8 1187.9L1379.6 233.3M-268.2 1197.7L1385.2 243.1M-262.5 1207.4L1390.9 252.8M-256.9 1217.1L1396.5 262.6M-251.3 1226.9L1402.1 272.3M-245.7 1236.6L1407.7 282.0M-240.0 1246.4L1413.4 291.8M-234.4 1256.1L1419.0 301.5M-228.8 1265.9L1424.6 311.3M-223.2 1275.6L1430.2 321.0M-217.5 1285.3L1435.9 330.8M-211.9 1295.1L1441.5 340.5M-206.3 1304.8L1447.1 350.2M-200.7 1314.6L1452.7 360.0M-195.0 1324.3L1458.4 369.7M-189.4 1334.1L1464.0 379.5M-183.8 1343.8L1469.6 389.2M-178.2 1353.5L1475.2 399.0M-172.5 1363.3L1480.9 408.7M-166.9 1373.0L1486.5 418.4M-161.3 1382.8L1492.1 428.2M-155.7 1392.5L1497.7 437.9M-150.0 1402.3L1503.4 447.7M-144.4 1412.0L1509.0 457.4M-138.8 1421.7L1514.6 467.1M-133.2 1431.5L1520.2 476.9M-127.5 1441.2L1525.9 486.6M-121.9 1451.0L1531.5 496.4M-116.3 1460.7L1537.1 506.1M-110.7 1470.5L1542.7 515.9M-105.0 1480.2L1548.4 525.6M-99.4 1489.9L1554.0 535.3M-93.8 1499.7L1559.6 545.1M-88.2 1509.4L1565.2 554.8M-82.5 1519.2L1570.9 564.6M-76.9 1528.9L1576.5 574.3M-71.3 1538.7L1582.1 584.1M-65.7 1548.4L1587.7 593.8M-60.0 1558.1L1593.4 603.5M-54.4 1567.9L1599.0 613.3M-48.8 1577.6L1604.6 623.0M-43.2 1587.4L1610.2 632.8M-37.5 1597.1L1615.9 642.5M-31.9 1606.9L1621.5 652.3M-26.3 1616.6L1627.1 662.0M-20.7 1626.3L1632.7 671.7M-15.0 1636.1L1638.4 681.5M-9.4 1645.8L1644.0 691.2M-3.8 1655.6L1649.6 701.0" stroke-width="2.7" fill="none"/>
<path d="M188.5 152.4 L195.2 152.4 L195.2 145.1 L217.8 145.1 L221.1 152.4 L322.7 152.4 L333.7 153.4 L337.2 155.7 L350.6 161 L358.6 165 L375 182.3 L594.1 401.9" fill="none" stroke-width="2.6" />
<path d="M134.9 187.3 L323.6 187.3 C331 188 336 192 339.6 196.9 L503 357.4" fill="none" stroke-width="2.6" />
<line x1="118.9" y1="167.6" x2="134.9" y2="187.3" stroke-width="2.6"/>
<path clip-path="url(#body)" d="M-975.6 681.6L-21.0 -971.8M-968.1 686.0L-13.5 -967.4M-960.5 690.4L-5.9 -963.0M-953.0 694.7L1.6 -958.7M-945.4 699.1L9.2 -954.3M-937.9 703.4L16.7 -950.0M-930.3 707.8L24.3 -945.6M-922.8 712.2L31.8 -941.2M-915.2 716.5L39.4 -936.9M-907.7 720.9L46.9 -932.5M-900.1 725.2L54.5 -928.2M-892.5 729.6L62.0 -923.8M-885.0 734.0L69.6 -919.4M-877.4 738.3L77.1 -915.1M-869.9 742.7L84.7 -910.7M-862.3 747.0L92.3 -906.4M-854.8 751.4L99.8 -902.0M-847.2 755.8L107.4 -897.6M-839.7 760.1L114.9 -893.3M-832.1 764.5L122.5 -888.9M-824.6 768.8L130.0 -884.6M-817.0 773.2L137.6 -880.2M-809.5 777.6L145.1 -875.8M-801.9 781.9L152.7 -871.5M-794.4 786.3L160.2 -867.1M-786.8 790.6L167.8 -862.8M-779.3 795.0L175.3 -858.4M-771.7 799.4L182.9 -854.0M-764.2 803.7L190.4 -849.7M-756.6 808.1L198.0 -845.3M-749.1 812.4L205.5 -841.0M-741.5 816.8L213.1 -836.6M-734.0 821.2L220.6 -832.2M-726.4 825.5L228.2 -827.9M-718.9 829.9L235.7 -823.5M-711.3 834.2L243.3 -819.2M-703.8 838.6L250.8 -814.8M-696.2 843.0L258.4 -810.4M-688.7 847.3L265.9 -806.1M-681.1 851.7L273.5 -801.7M-673.5 856.0L281.0 -797.4M-666.0 860.4L288.6 -793.0M-658.4 864.8L296.1 -788.6M-650.9 869.1L303.7 -784.3M-643.3 873.5L311.3 -779.9M-635.8 877.8L318.8 -775.6M-628.2 882.2L326.4 -771.2M-620.7 886.6L333.9 -766.8M-613.1 890.9L341.5 -762.5M-605.6 895.3L349.0 -758.1M-598.0 899.6L356.6 -753.8M-590.5 904.0L364.1 -749.4M-582.9 908.4L371.7 -745.0M-575.4 912.7L379.2 -740.7M-567.8 917.1L386.8 -736.3M-560.3 921.4L394.3 -732.0M-552.7 925.8L401.9 -727.6M-545.2 930.2L409.4 -723.2M-537.6 934.5L417.0 -718.9M-530.1 938.9L424.5 -714.5M-522.5 943.2L432.1 -710.2M-515.0 947.6L439.6 -705.8M-507.4 952.0L447.2 -701.4M-499.9 956.3L454.7 -697.1M-492.3 960.7L462.3 -692.7M-484.8 965.0L469.8 -688.4M-477.2 969.4L477.4 -684.0M-469.7 973.8L484.9 -679.6M-462.1 978.1L492.5 -675.3M-454.5 982.5L500.0 -670.9M-447.0 986.8L507.6 -666.6M-439.4 991.2L515.2 -662.2M-431.9 995.6L522.7 -657.8M-424.3 999.9L530.3 -653.5M-416.8 1004.3L537.8 -649.1M-409.2 1008.6L545.4 -644.8M-401.7 1013.0L552.9 -640.4M-394.1 1017.4L560.5 -636.0M-386.6 1021.7L568.0 -631.7M-379.0 1026.1L575.6 -627.3M-371.5 1030.4L583.1 -623.0M-363.9 1034.8L590.7 -618.6M-356.4 1039.2L598.2 -614.2M-348.8 1043.5L605.8 -609.9M-341.3 1047.9L613.3 -605.5M-333.7 1052.2L620.9 -601.2M-326.2 1056.6L628.4 -596.8M-318.6 1061.0L636.0 -592.4M-311.1 1065.3L643.5 -588.1M-303.5 1069.7L651.1 -583.7M-296.0 1074.0L658.6 -579.4M-288.4 1078.4L666.2 -575.0M-280.9 1082.8L673.7 -570.6M-273.3 1087.1L681.3 -566.3M-265.8 1091.5L688.8 -561.9M-258.2 1095.8L696.4 -557.6M-250.7 1100.2L703.9 -553.2M-243.1 1104.6L711.5 -548.8M-235.5 1108.9L719.0 -544.5M-228.0 1113.3L726.6 -540.1M-220.4 1117.6L734.2 -535.8M-212.9 1122.0L741.7 -531.4M-205.3 1126.4L749.3 -527.0M-197.8 1130.7L756.8 -522.7M-190.2 1135.1L764.4 -518.3M-182.7 1139.4L771.9 -514.0M-175.1 1143.8L779.5 -509.6M-167.6 1148.2L787.0 -505.2M-160.0 1152.5L794.6 -500.9M-152.5 1156.9L802.1 -496.5M-144.9 1161.2L809.7 -492.2M-137.4 1165.6L817.2 -487.8M-129.8 1170.0L824.8 -483.4M-122.3 1174.3L832.3 -479.1M-114.7 1178.7L839.9 -474.7M-107.2 1183.0L847.4 -470.4M-99.6 1187.4L855.0 -466.0M-92.1 1191.8L862.5 -461.6M-84.5 1196.1L870.1 -457.3M-77.0 1200.5L877.6 -452.9M-69.4 1204.8L885.2 -448.6M-61.9 1209.2L892.7 -444.2M-54.3 1213.6L900.3 -439.8M-46.8 1217.9L907.8 -435.5M-39.2 1222.3L915.4 -431.1M-31.6 1226.6L922.9 -426.8M-24.1 1231.0L930.5 -422.4M-16.5 1235.4L938.0 -418.0M-9.0 1239.7L945.6 -413.7M-1.4 1244.1L953.2 -409.3M6.1 1248.4L960.7 -405.0M13.7 1252.8L968.3 -400.6M21.2 1257.2L975.8 -396.2M28.8 1261.5L983.4 -391.9M36.3 1265.9L990.9 -387.5M43.9 1270.2L998.5 -383.2M51.4 1274.6L1006.0 -378.8M59.0 1279.0L1013.6 -374.4M66.5 1283.3L1021.1 -370.1M74.1 1287.7L1028.7 -365.7M81.6 1292.0L1036.2 -361.4M89.2 1296.4L1043.8 -357.0M96.7 1300.8L1051.3 -352.6M104.3 1305.1L1058.9 -348.3M111.8 1309.5L1066.4 -343.9M119.4 1313.8L1074.0 -339.6M126.9 1318.2L1081.5 -335.2M134.5 1322.6L1089.1 -330.8M142.0 1326.9L1096.6 -326.5M149.6 1331.3L1104.2 -322.1M157.1 1335.6L1111.7 -317.8M164.7 1340.0L1119.3 -313.4M172.2 1344.4L1126.8 -309.0M179.8 1348.7L1134.4 -304.7M187.4 1353.1L1141.9 -300.3M194.9 1357.4L1149.5 -296.0M202.5 1361.8L1157.0 -291.6M210.0 1366.2L1164.6 -287.2M217.6 1370.5L1172.2 -282.9M225.1 1374.9L1179.7 -278.5M232.7 1379.2L1187.3 -274.2M240.2 1383.6L1194.8 -269.8M247.8 1388.0L1202.4 -265.4M255.3 1392.3L1209.9 -261.1M262.9 1396.7L1217.5 -256.7M270.4 1401.0L1225.0 -252.4M278.0 1405.4L1232.6 -248.0M285.5 1409.8L1240.1 -243.6M293.1 1414.1L1247.7 -239.3M300.6 1418.5L1255.2 -234.9M308.2 1422.8L1262.8 -230.6M315.7 1427.2L1270.3 -226.2M323.3 1431.6L1277.9 -221.8M330.8 1435.9L1285.4 -217.5M338.4 1440.3L1293.0 -213.1M345.9 1444.6L1300.5 -208.8M353.5 1449.0L1308.1 -204.4M361.0 1453.4L1315.6 -200.0M368.6 1457.7L1323.2 -195.7M376.1 1462.1L1330.7 -191.3M383.7 1466.4L1338.3 -187.0M391.2 1470.8L1345.8 -182.6M398.8 1475.2L1353.4 -178.2M406.4 1479.5L1360.9 -173.9M413.9 1483.9L1368.5 -169.5M421.5 1488.2L1376.0 -165.2M429.0 1492.6L1383.6 -160.8M436.6 1497.0L1391.2 -156.4M444.1 1501.3L1398.7 -152.1M451.7 1505.7L1406.3 -147.7M459.2 1510.0L1413.8 -143.4M466.8 1514.4L1421.4 -139.0M474.3 1518.8L1428.9 -134.6M481.9 1523.1L1436.5 -130.3M489.4 1527.5L1444.0 -125.9M497.0 1531.8L1451.6 -121.6M504.5 1536.2L1459.1 -117.2M512.1 1540.6L1466.7 -112.8M519.6 1544.9L1474.2 -108.5M527.2 1549.3L1481.8 -104.1M534.7 1553.6L1489.3 -99.8M542.3 1558.0L1496.9 -95.4M549.8 1562.4L1504.4 -91.0M557.4 1566.7L1512.0 -86.7M564.9 1571.1L1519.5 -82.3M572.5 1575.4L1527.1 -78.0M580.0 1579.8L1534.6 -73.6M587.6 1584.2L1542.2 -69.2M595.1 1588.5L1549.7 -64.9M602.7 1592.9L1557.3 -60.5M610.2 1597.2L1564.8 -56.2M617.8 1601.6L1572.4 -51.8M625.4 1606.0L1579.9 -47.4M632.9 1610.3L1587.5 -43.1M640.5 1614.7L1595.0 -38.7M648.0 1619.0L1602.6 -34.4M655.6 1623.4L1610.2 -30.0M663.1 1627.8L1617.7 -25.6M670.7 1632.1L1625.3 -21.3M678.2 1636.5L1632.8 -16.9M685.8 1640.8L1640.4 -12.6M693.3 1645.2L1647.9 -8.2M700.9 1649.6L1655.5 -3.8" stroke-width="2.2" fill="none"/>
<line x1="299.6" y1="149.0" x2="299.6" y2="246.7" stroke-width="2.6"/>
<line x1="311.1" y1="250.2" x2="376.9" y2="182.7" stroke-width="2.6"/>
<path d="M532.5 339.9 C534.5 344 535 348 534.8 352.2 L593.5 409" fill="none" stroke-width="2.6" />
<polyline points="594.1,401.9 594.4,410.7 583.0,419.6" fill="none" stroke-width="2.6"/>
<line x1="511.9" y1="349.4" x2="583.0" y2="419.6" stroke-width="2.6"/>
<line x1="135.6" y1="187.3" x2="135.6" y2="261.9" stroke-width="2.6"/>
<line x1="154.4" y1="261.9" x2="169.3" y2="261.9" stroke-width="2.6"/>
<line x1="180.4" y1="261.9" x2="221.9" y2="261.9" stroke-width="2.6"/>
<line x1="232.6" y1="261.9" x2="247.4" y2="261.9" stroke-width="2.6"/>
<line x1="259.3" y1="261.9" x2="299.3" y2="261.9" stroke-width="2.6"/>
<line x1="195.5" y1="261.9" x2="195.5" y2="378.0" stroke-width="2.6"/>
<line x1="216.5" y1="261.9" x2="217.5" y2="378.0" stroke-width="2.6"/>
<polyline points="221.3,261.9 221.3,371.0 218.0,377.8" fill="none" stroke-width="2.6"/>
<line x1="188.4" y1="370.9" x2="195.5" y2="370.9" stroke-width="2.6"/>
<line x1="195.5" y1="378.0" x2="217.5" y2="378.0" stroke-width="2.6"/>
<line x1="221.3" y1="370.9" x2="253.6" y2="370.9" stroke-width="2.6"/>
<line x1="299.3" y1="262.0" x2="253.6" y2="370.9" stroke-width="2.6"/>
<line x1="253.6" y1="370.9" x2="438.3" y2="555.3" stroke-width="2.6"/>
<line x1="299.3" y1="261.2" x2="335.9" y2="298.5" stroke-width="2.6"/>
<line x1="346.5" y1="310.0" x2="360.7" y2="322.8" stroke-width="2.6"/>
<line x1="371.3" y1="334.0" x2="408.7" y2="371.3" stroke-width="2.6"/>
<line x1="431.3" y1="394.0" x2="452.7" y2="413.2" stroke-width="2.6"/>
<line x1="532.0" y1="493.8" x2="539.2" y2="500.0" stroke-width="2.6"/>
<line x1="452.7" y1="413.2" x2="511.9" y2="349.4" stroke-width="2.2"/>
<line x1="454.7" y1="414.6" x2="512.5" y2="352.5" stroke-width="2.2"/>
<path clip-path="url(#f1)" d="M-54.0 -959.6L1631.7 -63.3M-56.0 -955.8L1629.7 -59.5M-58.0 -952.0L1627.7 -55.7M-60.0 -948.2L1625.7 -51.9M-62.1 -944.4L1623.7 -48.1M-64.1 -940.6L1621.6 -44.3M-66.1 -936.8L1619.6 -40.5M-68.1 -933.0L1617.6 -36.7M-70.1 -929.2L1615.6 -32.9M-72.2 -925.4L1613.6 -29.1M-74.2 -921.6L1611.5 -25.3M-76.2 -917.8L1609.5 -21.5M-78.2 -914.0L1607.5 -17.7M-80.2 -910.2L1605.5 -13.9M-82.2 -906.4L1603.5 -10.1M-84.3 -902.6L1601.5 -6.3M-86.3 -898.8L1599.4 -2.5M-88.3 -895.0L1597.4 1.3M-90.3 -891.2L1595.4 5.1M-92.3 -887.4L1593.4 8.9M-94.4 -883.6L1591.4 12.7M-96.4 -879.8L1589.3 16.5M-98.4 -876.0L1587.3 20.3M-100.4 -872.2L1585.3 24.1M-102.4 -868.4L1583.3 27.9M-104.4 -864.7L1581.3 31.7M-106.5 -860.9L1579.2 35.5M-108.5 -857.1L1577.2 39.3M-110.5 -853.3L1575.2 43.0M-112.5 -849.5L1573.2 46.8M-114.5 -845.7L1571.2 50.6M-116.6 -841.9L1569.2 54.4M-118.6 -838.1L1567.1 58.2M-120.6 -834.3L1565.1 62.0M-122.6 -830.5L1563.1 65.8M-124.6 -826.7L1561.1 69.6M-126.7 -822.9L1559.1 73.4M-128.7 -819.1L1557.0 77.2M-130.7 -815.3L1555.0 81.0M-132.7 -811.5L1553.0 84.8M-134.7 -807.7L1551.0 88.6M-136.7 -803.9L1549.0 92.4M-138.8 -800.1L1546.9 96.2M-140.8 -796.3L1544.9 100.0M-142.8 -792.5L1542.9 103.8M-144.8 -788.7L1540.9 107.6M-146.8 -784.9L1538.9 111.4M-148.9 -781.1L1536.9 115.2M-150.9 -777.3L1534.8 119.0M-152.9 -773.5L1532.8 122.8M-154.9 -769.7L1530.8 126.6M-156.9 -765.9L1528.8 130.4M-159.0 -762.1L1526.8 134.2M-161.0 -758.3L1524.7 138.0M-163.0 -754.5L1522.7 141.8M-165.0 -750.8L1520.7 145.6M-167.0 -747.0L1518.7 149.4M-169.0 -743.2L1516.7 153.2M-171.1 -739.4L1514.6 156.9M-173.1 -735.6L1512.6 160.7M-175.1 -731.8L1510.6 164.5M-177.1 -728.0L1508.6 168.3M-179.1 -724.2L1506.6 172.1M-181.2 -720.4L1504.6 175.9M-183.2 -716.6L1502.5 179.7M-185.2 -712.8L1500.5 183.5M-187.2 -709.0L1498.5 187.3M-189.2 -705.2L1496.5 191.1M-191.3 -701.4L1494.5 194.9M-193.3 -697.6L1492.4 198.7M-195.3 -693.8L1490.4 202.5M-197.3 -690.0L1488.4 206.3M-199.3 -686.2L1486.4 210.1M-201.3 -682.4L1484.4 213.9M-203.4 -678.6L1482.3 217.7M-205.4 -674.8L1480.3 221.5M-207.4 -671.0L1478.3 225.3M-209.4 -667.2L1476.3 229.1M-211.4 -663.4L1474.3 232.9M-213.5 -659.6L1472.3 236.7M-215.5 -655.8L1470.2 240.5M-217.5 -652.0L1468.2 244.3M-219.5 -648.2L1466.2 248.1M-221.5 -644.4L1464.2 251.9M-223.6 -640.6L1462.2 255.7M-225.6 -636.9L1460.1 259.5M-227.6 -633.1L1458.1 263.3M-229.6 -629.3L1456.1 267.1M-231.6 -625.5L1454.1 270.8M-233.6 -621.7L1452.1 274.6M-235.7 -617.9L1450.0 278.4M-237.7 -614.1L1448.0 282.2M-239.7 -610.3L1446.0 286.0M-241.7 -606.5L1444.0 289.8M-243.7 -602.7L1442.0 293.6M-245.8 -598.9L1440.0 297.4M-247.8 -595.1L1437.9 301.2M-249.8 -591.3L1435.9 305.0M-251.8 -587.5L1433.9 308.8M-253.8 -583.7L1431.9 312.6M-255.9 -579.9L1429.9 316.4M-257.9 -576.1L1427.8 320.2M-259.9 -572.3L1425.8 324.0M-261.9 -568.5L1423.8 327.8M-263.9 -564.7L1421.8 331.6M-265.9 -560.9L1419.8 335.4M-268.0 -557.1L1417.7 339.2M-270.0 -553.3L1415.7 343.0M-272.0 -549.5L1413.7 346.8M-274.0 -545.7L1411.7 350.6M-276.0 -541.9L1409.7 354.4M-278.1 -538.1L1407.7 358.2M-280.1 -534.3L1405.6 362.0M-282.1 -530.5L1403.6 365.8M-284.1 -526.7L1401.6 369.6M-286.1 -523.0L1399.6 373.4M-288.2 -519.2L1397.6 377.2M-290.2 -515.4L1395.5 381.0M-292.2 -511.6L1393.5 384.7M-294.2 -507.8L1391.5 388.5M-296.2 -504.0L1389.5 392.3M-298.2 -500.2L1387.5 396.1M-300.3 -496.4L1385.4 399.9M-302.3 -492.6L1383.4 403.7M-304.3 -488.8L1381.4 407.5M-306.3 -485.0L1379.4 411.3M-308.3 -481.2L1377.4 415.1M-310.4 -477.4L1375.4 418.9M-312.4 -473.6L1373.3 422.7M-314.4 -469.8L1371.3 426.5M-316.4 -466.0L1369.3 430.3M-318.4 -462.2L1367.3 434.1M-320.5 -458.4L1365.3 437.9M-322.5 -454.6L1363.2 441.7M-324.5 -450.8L1361.2 445.5M-326.5 -447.0L1359.2 449.3M-328.5 -443.2L1357.2 453.1M-330.5 -439.4L1355.2 456.9M-332.6 -435.6L1353.1 460.7M-334.6 -431.8L1351.1 464.5M-336.6 -428.0L1349.1 468.3M-338.6 -424.2L1347.1 472.1M-340.6 -420.4L1345.1 475.9M-342.7 -416.6L1343.1 479.7M-344.7 -412.8L1341.0 483.5M-346.7 -409.1L1339.0 487.3M-348.7 -405.3L1337.0 491.1M-350.7 -401.5L1335.0 494.9M-352.8 -397.7L1333.0 498.6M-354.8 -393.9L1330.9 502.4M-356.8 -390.1L1328.9 506.2M-358.8 -386.3L1326.9 510.0M-360.8 -382.5L1324.9 513.8M-362.8 -378.7L1322.9 517.6M-364.9 -374.9L1320.8 521.4M-366.9 -371.1L1318.8 525.2M-368.9 -367.3L1316.8 529.0M-370.9 -363.5L1314.8 532.8M-372.9 -359.7L1312.8 536.6M-375.0 -355.9L1310.8 540.4M-377.0 -352.1L1308.7 544.2M-379.0 -348.3L1306.7 548.0M-381.0 -344.5L1304.7 551.8M-383.0 -340.7L1302.7 555.6M-385.1 -336.9L1300.7 559.4M-387.1 -333.1L1298.6 563.2M-389.1 -329.3L1296.6 567.0M-391.1 -325.5L1294.6 570.8M-393.1 -321.7L1292.6 574.6M-395.1 -317.9L1290.6 578.4M-397.2 -314.1L1288.5 582.2M-399.2 -310.3L1286.5 586.0M-401.2 -306.5L1284.5 589.8M-403.2 -302.7L1282.5 593.6M-405.2 -298.9L1280.5 597.4M-407.3 -295.1L1278.5 601.2M-409.3 -291.4L1276.4 605.0M-411.3 -287.6L1274.4 608.8M-413.3 -283.8L1272.4 612.5M-415.3 -280.0L1270.4 616.3M-417.4 -276.2L1268.4 620.1M-419.4 -272.4L1266.3 623.9M-421.4 -268.6L1264.3 627.7M-423.4 -264.8L1262.3 631.5M-425.4 -261.0L1260.3 635.3M-427.4 -257.2L1258.3 639.1M-429.5 -253.4L1256.2 642.9M-431.5 -249.6L1254.2 646.7M-433.5 -245.8L1252.2 650.5M-435.5 -242.0L1250.2 654.3M-437.5 -238.2L1248.2 658.1M-439.6 -234.4L1246.2 661.9M-441.6 -230.6L1244.1 665.7M-443.6 -226.8L1242.1 669.5M-445.6 -223.0L1240.1 673.3M-447.6 -219.2L1238.1 677.1M-449.7 -215.4L1236.1 680.9M-451.7 -211.6L1234.0 684.7M-453.7 -207.8L1232.0 688.5M-455.7 -204.0L1230.0 692.3M-457.7 -200.2L1228.0 696.1M-459.7 -196.4L1226.0 699.9M-461.8 -192.6L1223.9 703.7M-463.8 -188.8L1221.9 707.5M-465.8 -185.0L1219.9 711.3M-467.8 -181.2L1217.9 715.1M-469.8 -177.5L1215.9 718.9M-471.9 -173.7L1213.9 722.7M-473.9 -169.9L1211.8 726.5M-475.9 -166.1L1209.8 730.2M-477.9 -162.3L1207.8 734.0M-479.9 -158.5L1205.8 737.8M-482.0 -154.7L1203.8 741.6M-484.0 -150.9L1201.7 745.4M-486.0 -147.1L1199.7 749.2M-488.0 -143.3L1197.7 753.0M-490.0 -139.5L1195.7 756.8M-492.0 -135.7L1193.7 760.6M-494.1 -131.9L1191.6 764.4M-496.1 -128.1L1189.6 768.2M-498.1 -124.3L1187.6 772.0M-500.1 -120.5L1185.6 775.8M-502.1 -116.7L1183.6 779.6M-504.2 -112.9L1181.6 783.4M-506.2 -109.1L1179.5 787.2M-508.2 -105.3L1177.5 791.0M-510.2 -101.5L1175.5 794.8M-512.2 -97.7L1173.5 798.6M-514.3 -93.9L1171.5 802.4M-516.3 -90.1L1169.4 806.2M-518.3 -86.3L1167.4 810.0M-520.3 -82.5L1165.4 813.8M-522.3 -78.7L1163.4 817.6M-524.3 -74.9L1161.4 821.4M-526.4 -71.1L1159.3 825.2M-528.4 -67.3L1157.3 829.0M-530.4 -63.6L1155.3 832.8M-532.4 -59.8L1153.3 836.6M-534.4 -56.0L1151.3 840.4M-536.5 -52.2L1149.3 844.1M-538.5 -48.4L1147.2 847.9M-540.5 -44.6L1145.2 851.7M-542.5 -40.8L1143.2 855.5M-544.5 -37.0L1141.2 859.3M-546.6 -33.2L1139.2 863.1M-548.6 -29.4L1137.1 866.9M-550.6 -25.6L1135.1 870.7M-552.6 -21.8L1133.1 874.5M-554.6 -18.0L1131.1 878.3M-556.6 -14.2L1129.1 882.1M-558.7 -10.4L1127.0 885.9M-560.7 -6.6L1125.0 889.7M-562.7 -2.8L1123.0 893.5M-564.7 1.0L1121.0 897.3M-566.7 4.8L1119.0 901.1M-568.8 8.6L1117.0 904.9M-570.8 12.4L1114.9 908.7M-572.8 16.2L1112.9 912.5M-574.8 20.0L1110.9 916.3M-576.8 23.8L1108.9 920.1M-578.9 27.6L1106.9 923.9M-580.9 31.4L1104.8 927.7M-582.9 35.2L1102.8 931.5M-584.9 39.0L1100.8 935.3M-586.9 42.8L1098.8 939.1M-588.9 46.6L1096.8 942.9M-591.0 50.3L1094.8 946.7M-593.0 54.1L1092.7 950.5M-595.0 57.9L1090.7 954.3M-597.0 61.7L1088.7 958.0M-599.0 65.5L1086.7 961.8M-601.1 69.3L1084.7 965.6M-603.1 73.1L1082.6 969.4M-605.1 76.9L1080.6 973.2M-607.1 80.7L1078.6 977.0M-609.1 84.5L1076.6 980.8M-611.2 88.3L1074.6 984.6M-613.2 92.1L1072.5 988.4M-615.2 95.9L1070.5 992.2M-617.2 99.7L1068.5 996.0M-619.2 103.5L1066.5 999.8M-621.2 107.3L1064.5 1003.6M-623.3 111.1L1062.5 1007.4M-625.3 114.9L1060.4 1011.2M-627.3 118.7L1058.4 1015.0M-629.3 122.5L1056.4 1018.8M-631.3 126.3L1054.4 1022.6M-633.4 130.1L1052.4 1026.4M-635.4 133.9L1050.3 1030.2M-637.4 137.7L1048.3 1034.0M-639.4 141.5L1046.3 1037.8M-641.4 145.3L1044.3 1041.6M-643.5 149.1L1042.3 1045.4M-645.5 152.9L1040.2 1049.2M-647.5 156.7L1038.2 1053.0M-649.5 160.5L1036.2 1056.8M-651.5 164.2L1034.2 1060.6M-653.5 168.0L1032.2 1064.4M-655.6 171.8L1030.2 1068.2M-657.6 175.6L1028.1 1071.9M-659.6 179.4L1026.1 1075.7M-661.6 183.2L1024.1 1079.5M-663.6 187.0L1022.1 1083.3M-665.7 190.8L1020.1 1087.1M-667.7 194.6L1018.0 1090.9M-669.7 198.4L1016.0 1094.7M-671.7 202.2L1014.0 1098.5M-673.7 206.0L1012.0 1102.3M-675.7 209.8L1010.0 1106.1M-677.8 213.6L1007.9 1109.9M-679.8 217.4L1005.9 1113.7M-681.8 221.2L1003.9 1117.5M-683.8 225.0L1001.9 1121.3M-685.8 228.8L999.9 1125.1M-687.9 232.6L997.9 1128.9M-689.9 236.4L995.8 1132.7M-691.9 240.2L993.8 1136.5M-693.9 244.0L991.8 1140.3M-695.9 247.8L989.8 1144.1M-698.0 251.6L987.8 1147.9M-700.0 255.4L985.7 1151.7M-702.0 259.2L983.7 1155.5M-704.0 263.0L981.7 1159.3M-706.0 266.8L979.7 1163.1M-708.0 270.6L977.7 1166.9M-710.1 274.4L975.6 1170.7M-712.1 278.1L973.6 1174.5M-714.1 281.9L971.6 1178.3M-716.1 285.7L969.6 1182.1M-718.1 289.5L967.6 1185.8M-720.2 293.3L965.6 1189.6M-722.2 297.1L963.5 1193.4M-724.2 300.9L961.5 1197.2M-726.2 304.7L959.5 1201.0M-728.2 308.5L957.5 1204.8M-730.3 312.3L955.5 1208.6M-732.3 316.1L953.4 1212.4M-734.3 319.9L951.4 1216.2M-736.3 323.7L949.4 1220.0M-738.3 327.5L947.4 1223.8M-740.3 331.3L945.4 1227.6M-742.4 335.1L943.3 1231.4M-744.4 338.9L941.3 1235.2M-746.4 342.7L939.3 1239.0M-748.4 346.5L937.3 1242.8M-750.4 350.3L935.3 1246.6M-752.5 354.1L933.3 1250.4M-754.5 357.9L931.2 1254.2M-756.5 361.7L929.2 1258.0M-758.5 365.5L927.2 1261.8M-760.5 369.3L925.2 1265.6M-762.6 373.1L923.2 1269.4M-764.6 376.9L921.1 1273.2M-766.6 380.7L919.1 1277.0M-768.6 384.5L917.1 1280.8M-770.6 388.3L915.1 1284.6M-772.6 392.0L913.1 1288.4M-774.7 395.8L911.0 1292.2M-776.7 399.6L909.0 1296.0M-778.7 403.4L907.0 1299.7M-780.7 407.2L905.0 1303.5M-782.7 411.0L903.0 1307.3M-784.8 414.8L901.0 1311.1M-786.8 418.6L898.9 1314.9M-788.8 422.4L896.9 1318.7M-790.8 426.2L894.9 1322.5M-792.8 430.0L892.9 1326.3M-794.9 433.8L890.9 1330.1M-796.9 437.6L888.8 1333.9M-798.9 441.4L886.8 1337.7M-800.9 445.2L884.8 1341.5M-802.9 449.0L882.8 1345.3M-804.9 452.8L880.8 1349.1M-807.0 456.6L878.7 1352.9M-809.0 460.4L876.7 1356.7M-811.0 464.2L874.7 1360.5M-813.0 468.0L872.7 1364.3M-815.0 471.8L870.7 1368.1M-817.1 475.6L868.7 1371.9M-819.1 479.4L866.6 1375.7M-821.1 483.2L864.6 1379.5M-823.1 487.0L862.6 1383.3M-825.1 490.8L860.6 1387.1M-827.2 494.6L858.6 1390.9M-829.2 498.4L856.5 1394.7M-831.2 502.2L854.5 1398.5M-833.2 505.9L852.5 1402.3M-835.2 509.7L850.5 1406.1M-837.2 513.5L848.5 1409.9M-839.3 517.3L846.4 1413.6M-841.3 521.1L844.4 1417.4M-843.3 524.9L842.4 1421.2M-845.3 528.7L840.4 1425.0M-847.3 532.5L838.4 1428.8M-849.4 536.3L836.4 1432.6M-851.4 540.1L834.3 1436.4M-853.4 543.9L832.3 1440.2M-855.4 547.7L830.3 1444.0M-857.4 551.5L828.3 1447.8M-859.5 555.3L826.3 1451.6M-861.5 559.1L824.2 1455.4M-863.5 562.9L822.2 1459.2M-865.5 566.7L820.2 1463.0M-867.5 570.5L818.2 1466.8M-869.5 574.3L816.2 1470.6M-871.6 578.1L814.1 1474.4M-873.6 581.9L812.1 1478.2M-875.6 585.7L810.1 1482.0M-877.6 589.5L808.1 1485.8M-879.6 593.3L806.1 1489.6M-881.7 597.1L804.1 1493.4M-883.7 600.9L802.0 1497.2M-885.7 604.7L800.0 1501.0M-887.7 608.5L798.0 1504.8M-889.7 612.3L796.0 1508.6M-891.8 616.1L794.0 1512.4M-893.8 619.8L791.9 1516.2M-895.8 623.6L789.9 1520.0M-897.8 627.4L787.9 1523.8M-899.8 631.2L785.9 1527.5M-901.8 635.0L783.9 1531.3M-903.9 638.8L781.8 1535.1M-905.9 642.6L779.8 1538.9M-907.9 646.4L777.8 1542.7M-909.9 650.2L775.8 1546.5M-911.9 654.0L773.8 1550.3M-914.0 657.8L771.8 1554.1M-916.0 661.6L769.7 1557.9M-918.0 665.4L767.7 1561.7M-920.0 669.2L765.7 1565.5M-922.0 673.0L763.7 1569.3M-924.1 676.8L761.7 1573.1M-926.1 680.6L759.6 1576.9M-928.1 684.4L757.6 1580.7M-930.1 688.2L755.6 1584.5M-932.1 692.0L753.6 1588.3M-934.1 695.8L751.6 1592.1M-936.2 699.6L749.5 1595.9M-938.2 703.4L747.5 1599.7M-940.2 707.2L745.5 1603.5M-942.2 711.0L743.5 1607.3M-944.2 714.8L741.5 1611.1M-946.3 718.6L739.5 1614.9M-948.3 722.4L737.4 1618.7M-950.3 726.2L735.4 1622.5M-952.3 730.0L733.4 1626.3M-954.3 733.7L731.4 1630.1M-956.4 737.5L729.4 1633.9" stroke-width="2.1" fill="none"/>
<path d="M509.21 355.67 L522.11 389.67 A3.3 3.3 0 0 0 528.29 387.33 L515.39 353.33 A3.3 3.3 0 0 0 509.21 355.67 Z" fill="none" stroke-width="2.8" />
<path clip-path="url(#f2)" d="M-54.4 -958.9L1631.4 -62.6M-56.4 -955.1L1629.3 -58.8M-58.4 -951.3L1627.3 -55.0M-60.4 -947.5L1625.3 -51.2M-62.4 -943.7L1623.3 -47.4M-64.4 -939.9L1621.3 -43.6M-66.5 -936.1L1619.2 -39.8M-68.5 -932.3L1617.2 -36.0M-70.5 -928.5L1615.2 -32.2M-72.5 -924.7L1613.2 -28.4M-74.5 -920.9L1611.2 -24.6M-76.6 -917.1L1609.2 -20.8M-78.6 -913.3L1607.1 -17.0M-80.6 -909.5L1605.1 -13.2M-82.6 -905.7L1603.1 -9.4M-84.6 -901.9L1601.1 -5.6M-86.7 -898.1L1599.1 -1.8M-88.7 -894.3L1597.0 2.0M-90.7 -890.5L1595.0 5.8M-92.7 -886.7L1593.0 9.6M-94.7 -882.9L1591.0 13.4M-96.7 -879.1L1589.0 17.2M-98.8 -875.3L1586.9 21.0M-100.8 -871.5L1584.9 24.8M-102.8 -867.8L1582.9 28.6M-104.8 -864.0L1580.9 32.4M-106.8 -860.2L1578.9 36.2M-108.9 -856.4L1576.9 39.9M-110.9 -852.6L1574.8 43.7M-112.9 -848.8L1572.8 47.5M-114.9 -845.0L1570.8 51.3M-116.9 -841.2L1568.8 55.1M-119.0 -837.4L1566.8 58.9M-121.0 -833.6L1564.7 62.7M-123.0 -829.8L1562.7 66.5M-125.0 -826.0L1560.7 70.3M-127.0 -822.2L1558.7 74.1M-129.0 -818.4L1556.7 77.9M-131.1 -814.6L1554.6 81.7M-133.1 -810.8L1552.6 85.5M-135.1 -807.0L1550.6 89.3M-137.1 -803.2L1548.6 93.1M-139.1 -799.4L1546.6 96.9M-141.2 -795.6L1544.6 100.7M-143.2 -791.8L1542.5 104.5M-145.2 -788.0L1540.5 108.3M-147.2 -784.2L1538.5 112.1M-149.2 -780.4L1536.5 115.9M-151.3 -776.6L1534.5 119.7M-153.3 -772.8L1532.4 123.5M-155.3 -769.0L1530.4 127.3M-157.3 -765.2L1528.4 131.1M-159.3 -761.4L1526.4 134.9M-161.3 -757.6L1524.4 138.7M-163.4 -753.8L1522.3 142.5M-165.4 -750.1L1520.3 146.3M-167.4 -746.3L1518.3 150.1M-169.4 -742.5L1516.3 153.8M-171.4 -738.7L1514.3 157.6M-173.5 -734.9L1512.3 161.4M-175.5 -731.1L1510.2 165.2M-177.5 -727.3L1508.2 169.0M-179.5 -723.5L1506.2 172.8M-181.5 -719.7L1504.2 176.6M-183.6 -715.9L1502.2 180.4M-185.6 -712.1L1500.1 184.2M-187.6 -708.3L1498.1 188.0M-189.6 -704.5L1496.1 191.8M-191.6 -700.7L1494.1 195.6M-193.6 -696.9L1492.1 199.4M-195.7 -693.1L1490.0 203.2M-197.7 -689.3L1488.0 207.0M-199.7 -685.5L1486.0 210.8M-201.7 -681.7L1484.0 214.6M-203.7 -677.9L1482.0 218.4M-205.8 -674.1L1480.0 222.2M-207.8 -670.3L1477.9 226.0M-209.8 -666.5L1475.9 229.8M-211.8 -662.7L1473.9 233.6M-213.8 -658.9L1471.9 237.4M-215.9 -655.1L1469.9 241.2M-217.9 -651.3L1467.8 245.0M-219.9 -647.5L1465.8 248.8M-221.9 -643.7L1463.8 252.6M-223.9 -639.9L1461.8 256.4M-225.9 -636.2L1459.8 260.2M-228.0 -632.4L1457.8 264.0M-230.0 -628.6L1455.7 267.7M-232.0 -624.8L1453.7 271.5M-234.0 -621.0L1451.7 275.3M-236.0 -617.2L1449.7 279.1M-238.1 -613.4L1447.7 282.9M-240.1 -609.6L1445.6 286.7M-242.1 -605.8L1443.6 290.5M-244.1 -602.0L1441.6 294.3M-246.1 -598.2L1439.6 298.1M-248.2 -594.4L1437.6 301.9M-250.2 -590.6L1435.5 305.7M-252.2 -586.8L1433.5 309.5M-254.2 -583.0L1431.5 313.3M-256.2 -579.2L1429.5 317.1M-258.2 -575.4L1427.5 320.9M-260.3 -571.6L1425.5 324.7M-262.3 -567.8L1423.4 328.5M-264.3 -564.0L1421.4 332.3M-266.3 -560.2L1419.4 336.1M-268.3 -556.4L1417.4 339.9M-270.4 -552.6L1415.4 343.7M-272.4 -548.8L1413.3 347.5M-274.4 -545.0L1411.3 351.3M-276.4 -541.2L1409.3 355.1M-278.4 -537.4L1407.3 358.9M-280.4 -533.6L1405.3 362.7M-282.5 -529.8L1403.2 366.5M-284.5 -526.0L1401.2 370.3M-286.5 -522.3L1399.2 374.1M-288.5 -518.5L1397.2 377.9M-290.5 -514.7L1395.2 381.7M-292.6 -510.9L1393.2 385.4M-294.6 -507.1L1391.1 389.2M-296.6 -503.3L1389.1 393.0M-298.6 -499.5L1387.1 396.8M-300.6 -495.7L1385.1 400.6M-302.7 -491.9L1383.1 404.4M-304.7 -488.1L1381.0 408.2M-306.7 -484.3L1379.0 412.0M-308.7 -480.5L1377.0 415.8M-310.7 -476.7L1375.0 419.6M-312.7 -472.9L1373.0 423.4M-314.8 -469.1L1370.9 427.2M-316.8 -465.3L1368.9 431.0M-318.8 -461.5L1366.9 434.8M-320.8 -457.7L1364.9 438.6M-322.8 -453.9L1362.9 442.4M-324.9 -450.1L1360.9 446.2M-326.9 -446.3L1358.8 450.0M-328.9 -442.5L1356.8 453.8M-330.9 -438.7L1354.8 457.6M-332.9 -434.9L1352.8 461.4M-335.0 -431.1L1350.8 465.2M-337.0 -427.3L1348.7 469.0M-339.0 -423.5L1346.7 472.8M-341.0 -419.7L1344.7 476.6M-343.0 -415.9L1342.7 480.4M-345.0 -412.1L1340.7 484.2M-347.1 -408.4L1338.6 488.0M-349.1 -404.6L1336.6 491.8M-351.1 -400.8L1334.6 495.6M-353.1 -397.0L1332.6 499.3M-355.1 -393.2L1330.6 503.1M-357.2 -389.4L1328.6 506.9M-359.2 -385.6L1326.5 510.7M-361.2 -381.8L1324.5 514.5M-363.2 -378.0L1322.5 518.3M-365.2 -374.2L1320.5 522.1M-367.3 -370.4L1318.5 525.9M-369.3 -366.6L1316.4 529.7M-371.3 -362.8L1314.4 533.5M-373.3 -359.0L1312.4 537.3M-375.3 -355.2L1310.4 541.1M-377.3 -351.4L1308.4 544.9M-379.4 -347.6L1306.3 548.7M-381.4 -343.8L1304.3 552.5M-383.4 -340.0L1302.3 556.3M-385.4 -336.2L1300.3 560.1M-387.4 -332.4L1298.3 563.9M-389.5 -328.6L1296.3 567.7M-391.5 -324.8L1294.2 571.5M-393.5 -321.0L1292.2 575.3M-395.5 -317.2L1290.2 579.1M-397.5 -313.4L1288.2 582.9M-399.6 -309.6L1286.2 586.7M-401.6 -305.8L1284.1 590.5M-403.6 -302.0L1282.1 594.3M-405.6 -298.2L1280.1 598.1M-407.6 -294.5L1278.1 601.9M-409.6 -290.7L1276.1 605.7M-411.7 -286.9L1274.0 609.5M-413.7 -283.1L1272.0 613.2M-415.7 -279.3L1270.0 617.0M-417.7 -275.5L1268.0 620.8M-419.7 -271.7L1266.0 624.6M-421.8 -267.9L1264.0 628.4M-423.8 -264.1L1261.9 632.2M-425.8 -260.3L1259.9 636.0M-427.8 -256.5L1257.9 639.8M-429.8 -252.7L1255.9 643.6M-431.9 -248.9L1253.9 647.4M-433.9 -245.1L1251.8 651.2M-435.9 -241.3L1249.8 655.0M-437.9 -237.5L1247.8 658.8M-439.9 -233.7L1245.8 662.6M-441.9 -229.9L1243.8 666.4M-444.0 -226.1L1241.7 670.2M-446.0 -222.3L1239.7 674.0M-448.0 -218.5L1237.7 677.8M-450.0 -214.7L1235.7 681.6M-452.0 -210.9L1233.7 685.4M-454.1 -207.1L1231.7 689.2M-456.1 -203.3L1229.6 693.0M-458.1 -199.5L1227.6 696.8M-460.1 -195.7L1225.6 700.6M-462.1 -191.9L1223.6 704.4M-464.2 -188.1L1221.6 708.2M-466.2 -184.3L1219.5 712.0M-468.2 -180.6L1217.5 715.8M-470.2 -176.8L1215.5 719.6M-472.2 -173.0L1213.5 723.4M-474.2 -169.2L1211.5 727.1M-476.3 -165.4L1209.4 730.9M-478.3 -161.6L1207.4 734.7M-480.3 -157.8L1205.4 738.5M-482.3 -154.0L1203.4 742.3M-484.3 -150.2L1201.4 746.1M-486.4 -146.4L1199.4 749.9M-488.4 -142.6L1197.3 753.7M-490.4 -138.8L1195.3 757.5M-492.4 -135.0L1193.3 761.3M-494.4 -131.2L1191.3 765.1M-496.5 -127.4L1189.3 768.9M-498.5 -123.6L1187.2 772.7M-500.5 -119.8L1185.2 776.5M-502.5 -116.0L1183.2 780.3M-504.5 -112.2L1181.2 784.1M-506.5 -108.4L1179.2 787.9M-508.6 -104.6L1177.1 791.7M-510.6 -100.8L1175.1 795.5M-512.6 -97.0L1173.1 799.3M-514.6 -93.2L1171.1 803.1M-516.6 -89.4L1169.1 806.9M-518.7 -85.6L1167.1 810.7M-520.7 -81.8L1165.0 814.5M-522.7 -78.0L1163.0 818.3M-524.7 -74.2L1161.0 822.1M-526.7 -70.4L1159.0 825.9M-528.8 -66.7L1157.0 829.7M-530.8 -62.9L1154.9 833.5M-532.8 -59.1L1152.9 837.3M-534.8 -55.3L1150.9 841.0M-536.8 -51.5L1148.9 844.8M-538.8 -47.7L1146.9 848.6M-540.9 -43.9L1144.8 852.4M-542.9 -40.1L1142.8 856.2M-544.9 -36.3L1140.8 860.0M-546.9 -32.5L1138.8 863.8M-548.9 -28.7L1136.8 867.6M-551.0 -24.9L1134.8 871.4M-553.0 -21.1L1132.7 875.2M-555.0 -17.3L1130.7 879.0M-557.0 -13.5L1128.7 882.8M-559.0 -9.7L1126.7 886.6M-561.1 -5.9L1124.7 890.4M-563.1 -2.1L1122.6 894.2M-565.1 1.7L1120.6 898.0M-567.1 5.5L1118.6 901.8M-569.1 9.3L1116.6 905.6M-571.1 13.1L1114.6 909.4M-573.2 16.9L1112.5 913.2M-575.2 20.7L1110.5 917.0M-577.2 24.5L1108.5 920.8M-579.2 28.3L1106.5 924.6M-581.2 32.1L1104.5 928.4M-583.3 35.9L1102.5 932.2M-585.3 39.7L1100.4 936.0M-587.3 43.5L1098.4 939.8M-589.3 47.2L1096.4 943.6M-591.3 51.0L1094.4 947.4M-593.4 54.8L1092.4 951.2M-595.4 58.6L1090.3 954.9M-597.4 62.4L1088.3 958.7M-599.4 66.2L1086.3 962.5M-601.4 70.0L1084.3 966.3M-603.4 73.8L1082.3 970.1M-605.5 77.6L1080.2 973.9M-607.5 81.4L1078.2 977.7M-609.5 85.2L1076.2 981.5M-611.5 89.0L1074.2 985.3M-613.5 92.8L1072.2 989.1M-615.6 96.6L1070.2 992.9M-617.6 100.4L1068.1 996.7M-619.6 104.2L1066.1 1000.5M-621.6 108.0L1064.1 1004.3M-623.6 111.8L1062.1 1008.1M-625.7 115.6L1060.1 1011.9M-627.7 119.4L1058.0 1015.7M-629.7 123.2L1056.0 1019.5M-631.7 127.0L1054.0 1023.3M-633.7 130.8L1052.0 1027.1M-635.7 134.6L1050.0 1030.9M-637.8 138.4L1047.9 1034.7M-639.8 142.2L1045.9 1038.5M-641.8 146.0L1043.9 1042.3M-643.8 149.8L1041.9 1046.1M-645.8 153.6L1039.9 1049.9M-647.9 157.4L1037.9 1053.7M-649.9 161.1L1035.8 1057.5M-651.9 164.9L1033.8 1061.3M-653.9 168.7L1031.8 1065.1M-655.9 172.5L1029.8 1068.8M-658.0 176.3L1027.8 1072.6M-660.0 180.1L1025.7 1076.4M-662.0 183.9L1023.7 1080.2M-664.0 187.7L1021.7 1084.0M-666.0 191.5L1019.7 1087.8M-668.0 195.3L1017.7 1091.6M-670.1 199.1L1015.6 1095.4M-672.1 202.9L1013.6 1099.2M-674.1 206.7L1011.6 1103.0M-676.1 210.5L1009.6 1106.8M-678.1 214.3L1007.6 1110.6M-680.2 218.1L1005.6 1114.4M-682.2 221.9L1003.5 1118.2M-684.2 225.7L1001.5 1122.0M-686.2 229.5L999.5 1125.8M-688.2 233.3L997.5 1129.6M-690.3 237.1L995.5 1133.4M-692.3 240.9L993.4 1137.2M-694.3 244.7L991.4 1141.0M-696.3 248.5L989.4 1144.8M-698.3 252.3L987.4 1148.6M-700.3 256.1L985.4 1152.4M-702.4 259.9L983.3 1156.2M-704.4 263.7L981.3 1160.0M-706.4 267.5L979.3 1163.8M-708.4 271.3L977.3 1167.6M-710.4 275.0L975.3 1171.4M-712.5 278.8L973.3 1175.2M-714.5 282.6L971.2 1179.0M-716.5 286.4L969.2 1182.7M-718.5 290.2L967.2 1186.5M-720.5 294.0L965.2 1190.3M-722.6 297.8L963.2 1194.1M-724.6 301.6L961.1 1197.9M-726.6 305.4L959.1 1201.7M-728.6 309.2L957.1 1205.5M-730.6 313.0L955.1 1209.3M-732.6 316.8L953.1 1213.1M-734.7 320.6L951.0 1216.9M-736.7 324.4L949.0 1220.7M-738.7 328.2L947.0 1224.5M-740.7 332.0L945.0 1228.3M-742.7 335.8L943.0 1232.1M-744.8 339.6L941.0 1235.9M-746.8 343.4L938.9 1239.7M-748.8 347.2L936.9 1243.5M-750.8 351.0L934.9 1247.3M-752.8 354.8L932.9 1251.1M-754.9 358.6L930.9 1254.9M-756.9 362.4L928.8 1258.7M-758.9 366.2L926.8 1262.5M-760.9 370.0L924.8 1266.3M-762.9 373.8L922.8 1270.1M-764.9 377.6L920.8 1273.9M-767.0 381.4L918.7 1277.7M-769.0 385.2L916.7 1281.5M-771.0 388.9L914.7 1285.3M-773.0 392.7L912.7 1289.1M-775.0 396.5L910.7 1292.9M-777.1 400.3L908.7 1296.6M-779.1 404.1L906.6 1300.4M-781.1 407.9L904.6 1304.2M-783.1 411.7L902.6 1308.0M-785.1 415.5L900.6 1311.8M-787.2 419.3L898.6 1315.6M-789.2 423.1L896.5 1319.4M-791.2 426.9L894.5 1323.2M-793.2 430.7L892.5 1327.0M-795.2 434.5L890.5 1330.8M-797.2 438.3L888.5 1334.6M-799.3 442.1L886.5 1338.4M-801.3 445.9L884.4 1342.2M-803.3 449.7L882.4 1346.0M-805.3 453.5L880.4 1349.8M-807.3 457.3L878.4 1353.6M-809.4 461.1L876.4 1357.4M-811.4 464.9L874.3 1361.2M-813.4 468.7L872.3 1365.0M-815.4 472.5L870.3 1368.8M-817.4 476.3L868.3 1372.6M-819.5 480.1L866.3 1376.4M-821.5 483.9L864.2 1380.2M-823.5 487.7L862.2 1384.0M-825.5 491.5L860.2 1387.8M-827.5 495.3L858.2 1391.6M-829.5 499.1L856.2 1395.4M-831.6 502.8L854.2 1399.2M-833.6 506.6L852.1 1403.0M-835.6 510.4L850.1 1406.8M-837.6 514.2L848.1 1410.5M-839.6 518.0L846.1 1414.3M-841.7 521.8L844.1 1418.1M-843.7 525.6L842.0 1421.9M-845.7 529.4L840.0 1425.7M-847.7 533.2L838.0 1429.5M-849.7 537.0L836.0 1433.3M-851.7 540.8L834.0 1437.1M-853.8 544.6L831.9 1440.9M-855.8 548.4L829.9 1444.7M-857.8 552.2L827.9 1448.5M-859.8 556.0L825.9 1452.3M-861.8 559.8L823.9 1456.1M-863.9 563.6L821.9 1459.9M-865.9 567.4L819.8 1463.7M-867.9 571.2L817.8 1467.5M-869.9 575.0L815.8 1471.3M-871.9 578.8L813.8 1475.1M-874.0 582.6L811.8 1478.9M-876.0 586.4L809.7 1482.7M-878.0 590.2L807.7 1486.5M-880.0 594.0L805.7 1490.3M-882.0 597.8L803.7 1494.1M-884.0 601.6L801.7 1497.9M-886.1 605.4L799.6 1501.7M-888.1 609.2L797.6 1505.5M-890.1 613.0L795.6 1509.3M-892.1 616.7L793.6 1513.1M-894.1 620.5L791.6 1516.9M-896.2 624.3L789.6 1520.7M-898.2 628.1L787.5 1524.4M-900.2 631.9L785.5 1528.2M-902.2 635.7L783.5 1532.0M-904.2 639.5L781.5 1535.8M-906.3 643.3L779.5 1539.6M-908.3 647.1L777.4 1543.4M-910.3 650.9L775.4 1547.2M-912.3 654.7L773.4 1551.0M-914.3 658.5L771.4 1554.8M-916.3 662.3L769.4 1558.6M-918.4 666.1L767.3 1562.4M-920.4 669.9L765.3 1566.2M-922.4 673.7L763.3 1570.0M-924.4 677.5L761.3 1573.8M-926.4 681.3L759.3 1577.6M-928.5 685.1L757.3 1581.4M-930.5 688.9L755.2 1585.2M-932.5 692.7L753.2 1589.0M-934.5 696.5L751.2 1592.8M-936.5 700.3L749.2 1596.6M-938.6 704.1L747.2 1600.4M-940.6 707.9L745.1 1604.2M-942.6 711.7L743.1 1608.0M-944.6 715.5L741.1 1611.8M-946.6 719.3L739.1 1615.6M-948.6 723.1L737.1 1619.4M-950.7 726.9L735.0 1623.2M-952.7 730.6L733.0 1627.0M-954.7 734.4L731.0 1630.8M-956.7 738.2L729.0 1634.6" stroke-width="2.1" fill="none"/>
<path d="M532.74 383.73 L542.74 408.73 A3.3 3.3 0 0 0 548.86 406.27 L538.86 381.27 A3.3 3.3 0 0 0 532.74 383.73 Z" fill="none" stroke-width="2.8" />
<path clip-path="url(#f3)" d="M-53.3 -960.8L1632.4 -64.5M-55.3 -957.0L1630.4 -60.7M-57.4 -953.2L1628.4 -56.9M-59.4 -949.4L1626.3 -53.1M-61.4 -945.6L1624.3 -49.3M-63.4 -941.8L1622.3 -45.5M-65.4 -938.0L1620.3 -41.7M-67.5 -934.2L1618.3 -37.9M-69.5 -930.4L1616.2 -34.1M-71.5 -926.6L1614.2 -30.3M-73.5 -922.8L1612.2 -26.5M-75.5 -919.0L1610.2 -22.7M-77.5 -915.2L1608.2 -18.9M-79.6 -911.4L1606.1 -15.1M-81.6 -907.7L1604.1 -11.3M-83.6 -903.9L1602.1 -7.5M-85.6 -900.1L1600.1 -3.7M-87.6 -896.3L1598.1 0.0M-89.7 -892.5L1596.1 3.8M-91.7 -888.7L1594.0 7.6M-93.7 -884.9L1592.0 11.4M-95.7 -881.1L1590.0 15.2M-97.7 -877.3L1588.0 19.0M-99.8 -873.5L1586.0 22.8M-101.8 -869.7L1583.9 26.6M-103.8 -865.9L1581.9 30.4M-105.8 -862.1L1579.9 34.2M-107.8 -858.3L1577.9 38.0M-109.8 -854.5L1575.9 41.8M-111.9 -850.7L1573.8 45.6M-113.9 -846.9L1571.8 49.4M-115.9 -843.1L1569.8 53.2M-117.9 -839.3L1567.8 57.0M-119.9 -835.5L1565.8 60.8M-122.0 -831.7L1563.8 64.6M-124.0 -827.9L1561.7 68.4M-126.0 -824.1L1559.7 72.2M-128.0 -820.3L1557.7 76.0M-130.0 -816.5L1555.7 79.8M-132.1 -812.7L1553.7 83.6M-134.1 -808.9L1551.6 87.4M-136.1 -805.1L1549.6 91.2M-138.1 -801.3L1547.6 95.0M-140.1 -797.5L1545.6 98.8M-142.1 -793.8L1543.6 102.6M-144.2 -790.0L1541.5 106.4M-146.2 -786.2L1539.5 110.2M-148.2 -782.4L1537.5 113.9M-150.2 -778.6L1535.5 117.7M-152.2 -774.8L1533.5 121.5M-154.3 -771.0L1531.5 125.3M-156.3 -767.2L1529.4 129.1M-158.3 -763.4L1527.4 132.9M-160.3 -759.6L1525.4 136.7M-162.3 -755.8L1523.4 140.5M-164.4 -752.0L1521.4 144.3M-166.4 -748.2L1519.3 148.1M-168.4 -744.4L1517.3 151.9M-170.4 -740.6L1515.3 155.7M-172.4 -736.8L1513.3 159.5M-174.4 -733.0L1511.3 163.3M-176.5 -729.2L1509.2 167.1M-178.5 -725.4L1507.2 170.9M-180.5 -721.6L1505.2 174.7M-182.5 -717.8L1503.2 178.5M-184.5 -714.0L1501.2 182.3M-186.6 -710.2L1499.2 186.1M-188.6 -706.4L1497.1 189.9M-190.6 -702.6L1495.1 193.7M-192.6 -698.8L1493.1 197.5M-194.6 -695.0L1491.1 201.3M-196.7 -691.2L1489.1 205.1M-198.7 -687.4L1487.0 208.9M-200.7 -683.6L1485.0 212.7M-202.7 -679.9L1483.0 216.5M-204.7 -676.1L1481.0 220.3M-206.7 -672.3L1479.0 224.1M-208.8 -668.5L1476.9 227.8M-210.8 -664.7L1474.9 231.6M-212.8 -660.9L1472.9 235.4M-214.8 -657.1L1470.9 239.2M-216.8 -653.3L1468.9 243.0M-218.9 -649.5L1466.9 246.8M-220.9 -645.7L1464.8 250.6M-222.9 -641.9L1462.8 254.4M-224.9 -638.1L1460.8 258.2M-226.9 -634.3L1458.8 262.0M-229.0 -630.5L1456.8 265.8M-231.0 -626.7L1454.7 269.6M-233.0 -622.9L1452.7 273.4M-235.0 -619.1L1450.7 277.2M-237.0 -615.3L1448.7 281.0M-239.0 -611.5L1446.7 284.8M-241.1 -607.7L1444.6 288.6M-243.1 -603.9L1442.6 292.4M-245.1 -600.1L1440.6 296.2M-247.1 -596.3L1438.6 300.0M-249.1 -592.5L1436.6 303.8M-251.2 -588.7L1434.6 307.6M-253.2 -584.9L1432.5 311.4M-255.2 -581.1L1430.5 315.2M-257.2 -577.3L1428.5 319.0M-259.2 -573.5L1426.5 322.8M-261.3 -569.7L1424.5 326.6M-263.3 -566.0L1422.4 330.4M-265.3 -562.2L1420.4 334.2M-267.3 -558.4L1418.4 338.0M-269.3 -554.6L1416.4 341.7M-271.3 -550.8L1414.4 345.5M-273.4 -547.0L1412.3 349.3M-275.4 -543.2L1410.3 353.1M-277.4 -539.4L1408.3 356.9M-279.4 -535.6L1406.3 360.7M-281.4 -531.8L1404.3 364.5M-283.5 -528.0L1402.3 368.3M-285.5 -524.2L1400.2 372.1M-287.5 -520.4L1398.2 375.9M-289.5 -516.6L1396.2 379.7M-291.5 -512.8L1394.2 383.5M-293.6 -509.0L1392.2 387.3M-295.6 -505.2L1390.1 391.1M-297.6 -501.4L1388.1 394.9M-299.6 -497.6L1386.1 398.7M-301.6 -493.8L1384.1 402.5M-303.6 -490.0L1382.1 406.3M-305.7 -486.2L1380.0 410.1M-307.7 -482.4L1378.0 413.9M-309.7 -478.6L1376.0 417.7M-311.7 -474.8L1374.0 421.5M-313.7 -471.0L1372.0 425.3M-315.8 -467.2L1370.0 429.1M-317.8 -463.4L1367.9 432.9M-319.8 -459.6L1365.9 436.7M-321.8 -455.8L1363.9 440.5M-323.8 -452.0L1361.9 444.3M-325.9 -448.3L1359.9 448.1M-327.9 -444.5L1357.8 451.9M-329.9 -440.7L1355.8 455.6M-331.9 -436.9L1353.8 459.4M-333.9 -433.1L1351.8 463.2M-335.9 -429.3L1349.8 467.0M-338.0 -425.5L1347.7 470.8M-340.0 -421.7L1345.7 474.6M-342.0 -417.9L1343.7 478.4M-344.0 -414.1L1341.7 482.2M-346.0 -410.3L1339.7 486.0M-348.1 -406.5L1337.7 489.8M-350.1 -402.7L1335.6 493.6M-352.1 -398.9L1333.6 497.4M-354.1 -395.1L1331.6 501.2M-356.1 -391.3L1329.6 505.0M-358.2 -387.5L1327.6 508.8M-360.2 -383.7L1325.5 512.6M-362.2 -379.9L1323.5 516.4M-364.2 -376.1L1321.5 520.2M-366.2 -372.3L1319.5 524.0M-368.2 -368.5L1317.5 527.8M-370.3 -364.7L1315.4 531.6M-372.3 -360.9L1313.4 535.4M-374.3 -357.1L1311.4 539.2M-376.3 -353.3L1309.4 543.0M-378.3 -349.5L1307.4 546.8M-380.4 -345.7L1305.4 550.6M-382.4 -341.9L1303.3 554.4M-384.4 -338.1L1301.3 558.2M-386.4 -334.4L1299.3 562.0M-388.4 -330.6L1297.3 565.8M-390.5 -326.8L1295.3 569.5M-392.5 -323.0L1293.2 573.3M-394.5 -319.2L1291.2 577.1M-396.5 -315.4L1289.2 580.9M-398.5 -311.6L1287.2 584.7M-400.5 -307.8L1285.2 588.5M-402.6 -304.0L1283.1 592.3M-404.6 -300.2L1281.1 596.1M-406.6 -296.4L1279.1 599.9M-408.6 -292.6L1277.1 603.7M-410.6 -288.8L1275.1 607.5M-412.7 -285.0L1273.1 611.3M-414.7 -281.2L1271.0 615.1M-416.7 -277.4L1269.0 618.9M-418.7 -273.6L1267.0 622.7M-420.7 -269.8L1265.0 626.5M-422.8 -266.0L1263.0 630.3M-424.8 -262.2L1260.9 634.1M-426.8 -258.4L1258.9 637.9M-428.8 -254.6L1256.9 641.7M-430.8 -250.8L1254.9 645.5M-432.8 -247.0L1252.9 649.3M-434.9 -243.2L1250.8 653.1M-436.9 -239.4L1248.8 656.9M-438.9 -235.6L1246.8 660.7M-440.9 -231.8L1244.8 664.5M-442.9 -228.0L1242.8 668.3M-445.0 -224.2L1240.8 672.1M-447.0 -220.5L1238.7 675.9M-449.0 -216.7L1236.7 679.7M-451.0 -212.9L1234.7 683.5M-453.0 -209.1L1232.7 687.2M-455.1 -205.3L1230.7 691.0M-457.1 -201.5L1228.6 694.8M-459.1 -197.7L1226.6 698.6M-461.1 -193.9L1224.6 702.4M-463.1 -190.1L1222.6 706.2M-465.1 -186.3L1220.6 710.0M-467.2 -182.5L1218.5 713.8M-469.2 -178.7L1216.5 717.6M-471.2 -174.9L1214.5 721.4M-473.2 -171.1L1212.5 725.2M-475.2 -167.3L1210.5 729.0M-477.3 -163.5L1208.5 732.8M-479.3 -159.7L1206.4 736.6M-481.3 -155.9L1204.4 740.4M-483.3 -152.1L1202.4 744.2M-485.3 -148.3L1200.4 748.0M-487.4 -144.5L1198.4 751.8M-489.4 -140.7L1196.3 755.6M-491.4 -136.9L1194.3 759.4M-493.4 -133.1L1192.3 763.2M-495.4 -129.3L1190.3 767.0M-497.4 -125.5L1188.3 770.8M-499.5 -121.7L1186.3 774.6M-501.5 -117.9L1184.2 778.4M-503.5 -114.1L1182.2 782.2M-505.5 -110.3L1180.2 786.0M-507.5 -106.6L1178.2 789.8M-509.6 -102.8L1176.2 793.6M-511.6 -99.0L1174.1 797.4M-513.6 -95.2L1172.1 801.1M-515.6 -91.4L1170.1 804.9M-517.6 -87.6L1168.1 808.7M-519.7 -83.8L1166.1 812.5M-521.7 -80.0L1164.0 816.3M-523.7 -76.2L1162.0 820.1M-525.7 -72.4L1160.0 823.9M-527.7 -68.6L1158.0 827.7M-529.7 -64.8L1156.0 831.5M-531.8 -61.0L1154.0 835.3M-533.8 -57.2L1151.9 839.1M-535.8 -53.4L1149.9 842.9M-537.8 -49.6L1147.9 846.7M-539.8 -45.8L1145.9 850.5M-541.9 -42.0L1143.9 854.3M-543.9 -38.2L1141.8 858.1M-545.9 -34.4L1139.8 861.9M-547.9 -30.6L1137.8 865.7M-549.9 -26.8L1135.8 869.5M-551.9 -23.0L1133.8 873.3M-554.0 -19.2L1131.7 877.1M-556.0 -15.4L1129.7 880.9M-558.0 -11.6L1127.7 884.7M-560.0 -7.8L1125.7 888.5M-562.0 -4.0L1123.7 892.3M-564.1 -0.2L1121.7 896.1M-566.1 3.6L1119.6 899.9M-568.1 7.3L1117.6 903.7M-570.1 11.1L1115.6 907.5M-572.1 14.9L1113.6 911.3M-574.2 18.7L1111.6 915.0M-576.2 22.5L1109.5 918.8M-578.2 26.3L1107.5 922.6M-580.2 30.1L1105.5 926.4M-582.2 33.9L1103.5 930.2M-584.2 37.7L1101.5 934.0M-586.3 41.5L1099.4 937.8M-588.3 45.3L1097.4 941.6M-590.3 49.1L1095.4 945.4M-592.3 52.9L1093.4 949.2M-594.3 56.7L1091.4 953.0M-596.4 60.5L1089.4 956.8M-598.4 64.3L1087.3 960.6M-600.4 68.1L1085.3 964.4M-602.4 71.9L1083.3 968.2M-604.4 75.7L1081.3 972.0M-606.5 79.5L1079.3 975.8M-608.5 83.3L1077.2 979.6M-610.5 87.1L1075.2 983.4M-612.5 90.9L1073.2 987.2M-614.5 94.7L1071.2 991.0M-616.5 98.5L1069.2 994.8M-618.6 102.3L1067.1 998.6M-620.6 106.1L1065.1 1002.4M-622.6 109.9L1063.1 1006.2M-624.6 113.7L1061.1 1010.0M-626.6 117.5L1059.1 1013.8M-628.7 121.2L1057.1 1017.6M-630.7 125.0L1055.0 1021.4M-632.7 128.8L1053.0 1025.2M-634.7 132.6L1051.0 1028.9M-636.7 136.4L1049.0 1032.7M-638.8 140.2L1047.0 1036.5M-640.8 144.0L1044.9 1040.3M-642.8 147.8L1042.9 1044.1M-644.8 151.6L1040.9 1047.9M-646.8 155.4L1038.9 1051.7M-648.8 159.2L1036.9 1055.5M-650.9 163.0L1034.8 1059.3M-652.9 166.8L1032.8 1063.1M-654.9 170.6L1030.8 1066.9M-656.9 174.4L1028.8 1070.7M-658.9 178.2L1026.8 1074.5M-661.0 182.0L1024.8 1078.3M-663.0 185.8L1022.7 1082.1M-665.0 189.6L1020.7 1085.9M-667.0 193.4L1018.7 1089.7M-669.0 197.2L1016.7 1093.5M-671.1 201.0L1014.7 1097.3M-673.1 204.8L1012.6 1101.1M-675.1 208.6L1010.6 1104.9M-677.1 212.4L1008.6 1108.7M-679.1 216.2L1006.6 1112.5M-681.1 220.0L1004.6 1116.3M-683.2 223.8L1002.5 1120.1M-685.2 227.6L1000.5 1123.9M-687.2 231.4L998.5 1127.7M-689.2 235.1L996.5 1131.5M-691.2 238.9L994.5 1135.3M-693.3 242.7L992.5 1139.1M-695.3 246.5L990.4 1142.8M-697.3 250.3L988.4 1146.6M-699.3 254.1L986.4 1150.4M-701.3 257.9L984.4 1154.2M-703.4 261.7L982.4 1158.0M-705.4 265.5L980.3 1161.8M-707.4 269.3L978.3 1165.6M-709.4 273.1L976.3 1169.4M-711.4 276.9L974.3 1173.2M-713.4 280.7L972.3 1177.0M-715.5 284.5L970.2 1180.8M-717.5 288.3L968.2 1184.6M-719.5 292.1L966.2 1188.4M-721.5 295.9L964.2 1192.2M-723.5 299.7L962.2 1196.0M-725.6 303.5L960.2 1199.8M-727.6 307.3L958.1 1203.6M-729.6 311.1L956.1 1207.4M-731.6 314.9L954.1 1211.2M-733.6 318.7L952.1 1215.0M-735.7 322.5L950.1 1218.8M-737.7 326.3L948.0 1222.6M-739.7 330.1L946.0 1226.4M-741.7 333.9L944.0 1230.2M-743.7 337.7L942.0 1234.0M-745.7 341.5L940.0 1237.8M-747.8 345.3L937.9 1241.6M-749.8 349.0L935.9 1245.4M-751.8 352.8L933.9 1249.2M-753.8 356.6L931.9 1253.0M-755.8 360.4L929.9 1256.7M-757.9 364.2L927.9 1260.5M-759.9 368.0L925.8 1264.3M-761.9 371.8L923.8 1268.1M-763.9 375.6L921.8 1271.9M-765.9 379.4L919.8 1275.7M-768.0 383.2L917.8 1279.5M-770.0 387.0L915.7 1283.3M-772.0 390.8L913.7 1287.1M-774.0 394.6L911.7 1290.9M-776.0 398.4L909.7 1294.7M-778.0 402.2L907.7 1298.5M-780.1 406.0L905.6 1302.3M-782.1 409.8L903.6 1306.1M-784.1 413.6L901.6 1309.9M-786.1 417.4L899.6 1313.7M-788.1 421.2L897.6 1317.5M-790.2 425.0L895.6 1321.3M-792.2 428.8L893.5 1325.1M-794.2 432.6L891.5 1328.9M-796.2 436.4L889.5 1332.7M-798.2 440.2L887.5 1336.5M-800.3 444.0L885.5 1340.3M-802.3 447.8L883.4 1344.1M-804.3 451.6L881.4 1347.9M-806.3 455.4L879.4 1351.7M-808.3 459.2L877.4 1355.5M-810.3 462.9L875.4 1359.3M-812.4 466.7L873.3 1363.1M-814.4 470.5L871.3 1366.9M-816.4 474.3L869.3 1370.6M-818.4 478.1L867.3 1374.4M-820.4 481.9L865.3 1378.2M-822.5 485.7L863.3 1382.0M-824.5 489.5L861.2 1385.8M-826.5 493.3L859.2 1389.6M-828.5 497.1L857.2 1393.4M-830.5 500.9L855.2 1397.2M-832.6 504.7L853.2 1401.0M-834.6 508.5L851.1 1404.8M-836.6 512.3L849.1 1408.6M-838.6 516.1L847.1 1412.4M-840.6 519.9L845.1 1416.2M-842.6 523.7L843.1 1420.0M-844.7 527.5L841.0 1423.8M-846.7 531.3L839.0 1427.6M-848.7 535.1L837.0 1431.4M-850.7 538.9L835.0 1435.2M-852.7 542.7L833.0 1439.0M-854.8 546.5L831.0 1442.8M-856.8 550.3L828.9 1446.6M-858.8 554.1L826.9 1450.4M-860.8 557.9L824.9 1454.2M-862.8 561.7L822.9 1458.0M-864.9 565.5L820.9 1461.8M-866.9 569.3L818.8 1465.6M-868.9 573.1L816.8 1469.4M-870.9 576.8L814.8 1473.2M-872.9 580.6L812.8 1477.0M-874.9 584.4L810.8 1480.8M-877.0 588.2L808.7 1484.5M-879.0 592.0L806.7 1488.3M-881.0 595.8L804.7 1492.1M-883.0 599.6L802.7 1495.9M-885.0 603.4L800.7 1499.7M-887.1 607.2L798.7 1503.5M-889.1 611.0L796.6 1507.3M-891.1 614.8L794.6 1511.1M-893.1 618.6L792.6 1514.9M-895.1 622.4L790.6 1518.7M-897.2 626.2L788.6 1522.5M-899.2 630.0L786.5 1526.3M-901.2 633.8L784.5 1530.1M-903.2 637.6L782.5 1533.9M-905.2 641.4L780.5 1537.7M-907.2 645.2L778.5 1541.5M-909.3 649.0L776.4 1545.3M-911.3 652.8L774.4 1549.1M-913.3 656.6L772.4 1552.9M-915.3 660.4L770.4 1556.7M-917.3 664.2L768.4 1560.5M-919.4 668.0L766.4 1564.3M-921.4 671.8L764.3 1568.1M-923.4 675.6L762.3 1571.9M-925.4 679.4L760.3 1575.7M-927.4 683.2L758.3 1579.5M-929.5 687.0L756.3 1583.3M-931.5 690.7L754.2 1587.1M-933.5 694.5L752.2 1590.9M-935.5 698.3L750.2 1594.7M-937.5 702.1L748.2 1598.4M-939.5 705.9L746.2 1602.2M-941.6 709.7L744.1 1606.0M-943.6 713.5L742.1 1609.8M-945.6 717.3L740.1 1613.6M-947.6 721.1L738.1 1617.4M-949.6 724.9L736.1 1621.2M-951.7 728.7L734.1 1625.0M-953.7 732.5L732.0 1628.8M-955.7 736.3L730.0 1632.6" stroke-width="2.1" fill="none"/>
<path d="M552.68 402.14 L570.68 438.64 A3.7 3.7 0 0 0 577.32 435.36 L559.32 398.86 A3.7 3.7 0 0 0 552.68 402.14 Z" fill="none" stroke-width="2.8" />
<line x1="525.0" y1="391.5" x2="478.9" y2="437.8" stroke-width="2.6"/>
<line x1="546.0" y1="411.5" x2="499.8" y2="458.6" stroke-width="2.6"/>
<line x1="566.9" y1="434.4" x2="449.6" y2="554.9" stroke-width="2.6"/>
<path d="M578.6 440.9 L478.9 541.8 Q474 546 471 541 L468.3 536" fill="none" stroke-width="2.6" />
<line x1="570.7" y1="375.0" x2="573.9" y2="371.8" stroke-width="2.6"/>
<line x1="458.3" y1="419.8" x2="465.4" y2="428.1" stroke-width="2.6"/>
<polyline points="389.6,503.9 465.4,428.1" fill="none" stroke-width="2.6"/>
<line x1="438.3" y1="555.3" x2="449.6" y2="554.9" stroke-width="2.6"/>
<line x1="470.4" y1="432.0" x2="527.8" y2="489.7" stroke-width="2.6"/>
<path d="M469.9 431.6L395.5 506.0M474.0 435.7L396.2 513.4M478.0 439.7L403.6 514.1M482.0 443.7L404.3 521.5M486.0 447.8L411.6 522.1M490.1 451.8L412.3 529.5M494.1 455.8L419.7 530.2M498.1 459.8L420.4 537.6M502.2 463.9L427.8 538.3M506.2 467.9L428.4 545.6M510.2 471.9L435.8 546.3M514.3 476.0L436.5 553.7" stroke-width="2.3" fill="none"/>
<path d="M400.25 545.75 L581.2 364.8 L652.02 435.62 A54 54 0 0 1 652.02 511.98 L547.43 616.57 A54 54 0 0 1 471.07 616.57 Z" fill="none" stroke-width="2.6" stroke-dasharray="5.76 7.68 5.12 230.31 7.04 0.00 22.03 7.76 32.05 18.03 34.70 16.54 19.09 17.39 38.46 21.08 21.82 20.71 22.92 18.49 35.39 17.39 17.81 16.96 38.86 19.03 21.03 19.28 21.03 0.00" stroke-linecap="butt"/>
</g></svg></body></html>
